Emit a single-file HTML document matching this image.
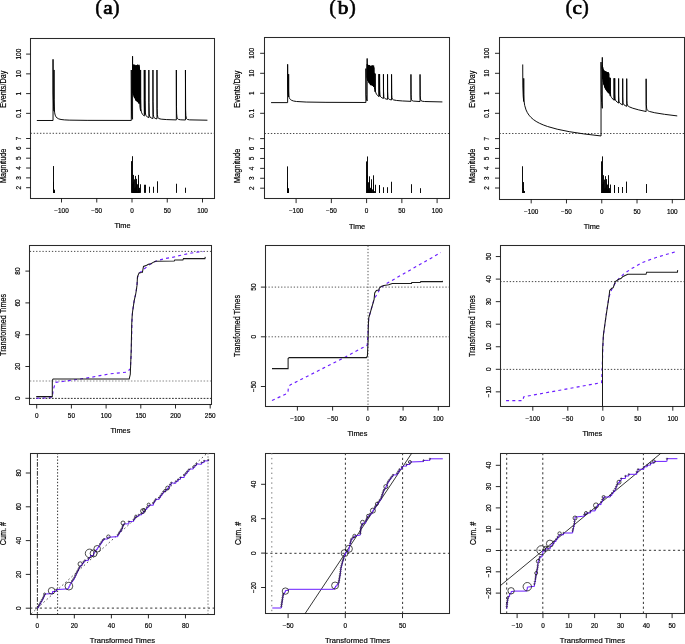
<!DOCTYPE html><html><head><meta charset="utf-8"><style>html,body{margin:0;padding:0;background:#fff;overflow:hidden}svg{display:block;will-change:transform}</style></head><body><svg width="685" height="644" viewBox="0 0 685 644">
<rect width="685" height="644" fill="#fff"/>
<text transform="translate(98.7,14.4) rotate(0) scale(1.0,1)" font-family="Liberation Serif" font-size="20.5" font-weight="normal" text-anchor="middle" fill="#000" stroke="#000" stroke-width="0.5">(</text>
<text transform="translate(108,14.2) rotate(0) scale(1.12,1)" font-family="Liberation Serif" font-size="19" font-weight="normal" text-anchor="middle" fill="#000" stroke="#000" stroke-width="0.75">a</text>
<text transform="translate(116.1,14.4) rotate(0) scale(1.0,1)" font-family="Liberation Serif" font-size="20.5" font-weight="normal" text-anchor="middle" fill="#000" stroke="#000" stroke-width="0.5">)</text>
<text transform="translate(332.6,14.4) rotate(0) scale(1.0,1)" font-family="Liberation Serif" font-size="20.5" font-weight="normal" text-anchor="middle" fill="#000" stroke="#000" stroke-width="0.5">(</text>
<text transform="translate(343,14.2) rotate(0) scale(1.12,1)" font-family="Liberation Serif" font-size="19" font-weight="normal" text-anchor="middle" fill="#000" stroke="#000" stroke-width="0.75">b</text>
<text transform="translate(352.4,14.4) rotate(0) scale(1.0,1)" font-family="Liberation Serif" font-size="20.5" font-weight="normal" text-anchor="middle" fill="#000" stroke="#000" stroke-width="0.5">)</text>
<text transform="translate(568.8,14.4) rotate(0) scale(1.0,1)" font-family="Liberation Serif" font-size="20.5" font-weight="normal" text-anchor="middle" fill="#000" stroke="#000" stroke-width="0.5">(</text>
<text transform="translate(577.1,14.2) rotate(0) scale(1.12,1)" font-family="Liberation Serif" font-size="19" font-weight="normal" text-anchor="middle" fill="#000" stroke="#000" stroke-width="0.75">c</text>
<text transform="translate(585.3,14.4) rotate(0) scale(1.0,1)" font-family="Liberation Serif" font-size="20.5" font-weight="normal" text-anchor="middle" fill="#000" stroke="#000" stroke-width="0.5">)</text>
<rect x="30.5" y="38.5" width="184" height="160" fill="none" stroke="#2a2a2a" stroke-width="1.05"/>
<line x1="30.5" y1="133.3" x2="214.6" y2="133.3" stroke="#333" stroke-width="0.9" stroke-dasharray="1.4,1.76"/>
<line x1="26.1" y1="54.1" x2="30.5" y2="54.1" stroke="#111" stroke-width="0.9"/>
<text transform="translate(20.9,54.1) rotate(-90) scale(0.97,1)" font-family="Liberation Sans" font-size="6.6" font-weight="normal" text-anchor="middle" fill="#000" stroke="#000" stroke-width="0.18">100</text>
<line x1="26.1" y1="73.85" x2="30.5" y2="73.85" stroke="#111" stroke-width="0.9"/>
<text transform="translate(20.9,73.85) rotate(-90) scale(0.97,1)" font-family="Liberation Sans" font-size="6.6" font-weight="normal" text-anchor="middle" fill="#000" stroke="#000" stroke-width="0.18">10</text>
<line x1="26.1" y1="93.6" x2="30.5" y2="93.6" stroke="#111" stroke-width="0.9"/>
<text transform="translate(20.9,93.6) rotate(-90) scale(0.97,1)" font-family="Liberation Sans" font-size="6.6" font-weight="normal" text-anchor="middle" fill="#000" stroke="#000" stroke-width="0.18">1</text>
<line x1="26.1" y1="113.35" x2="30.5" y2="113.35" stroke="#111" stroke-width="0.9"/>
<text transform="translate(20.9,113.35) rotate(-90) scale(0.97,1)" font-family="Liberation Sans" font-size="6.6" font-weight="normal" text-anchor="middle" fill="#000" stroke="#000" stroke-width="0.18">0.1</text>
<line x1="26.1" y1="138.5" x2="30.5" y2="138.5" stroke="#111" stroke-width="0.9"/>
<text transform="translate(20.9,138.5) rotate(-90) scale(0.97,1)" font-family="Liberation Sans" font-size="6.6" font-weight="normal" text-anchor="middle" fill="#000" stroke="#000" stroke-width="0.18">7</text>
<line x1="26.1" y1="148.34" x2="30.5" y2="148.34" stroke="#111" stroke-width="0.9"/>
<text transform="translate(20.9,148.34) rotate(-90) scale(0.97,1)" font-family="Liberation Sans" font-size="6.6" font-weight="normal" text-anchor="middle" fill="#000" stroke="#000" stroke-width="0.18">6</text>
<line x1="26.1" y1="158.18" x2="30.5" y2="158.18" stroke="#111" stroke-width="0.9"/>
<text transform="translate(20.9,158.18) rotate(-90) scale(0.97,1)" font-family="Liberation Sans" font-size="6.6" font-weight="normal" text-anchor="middle" fill="#000" stroke="#000" stroke-width="0.18">5</text>
<line x1="26.1" y1="168.02" x2="30.5" y2="168.02" stroke="#111" stroke-width="0.9"/>
<text transform="translate(20.9,168.02) rotate(-90) scale(0.97,1)" font-family="Liberation Sans" font-size="6.6" font-weight="normal" text-anchor="middle" fill="#000" stroke="#000" stroke-width="0.18">4</text>
<line x1="26.1" y1="177.86" x2="30.5" y2="177.86" stroke="#111" stroke-width="0.9"/>
<text transform="translate(20.9,177.86) rotate(-90) scale(0.97,1)" font-family="Liberation Sans" font-size="6.6" font-weight="normal" text-anchor="middle" fill="#000" stroke="#000" stroke-width="0.18">3</text>
<line x1="26.1" y1="187.7" x2="30.5" y2="187.7" stroke="#111" stroke-width="0.9"/>
<text transform="translate(20.9,187.7) rotate(-90) scale(0.97,1)" font-family="Liberation Sans" font-size="6.6" font-weight="normal" text-anchor="middle" fill="#000" stroke="#000" stroke-width="0.18">2</text>
<line x1="61.5" y1="198.3" x2="61.5" y2="202.5" stroke="#111" stroke-width="0.9"/>
<text transform="translate(61.5,212.7) rotate(0) scale(0.97,1)" font-family="Liberation Sans" font-size="6.6" font-weight="normal" text-anchor="middle" fill="#000" stroke="#000" stroke-width="0.18">−100</text>
<line x1="96.75" y1="198.3" x2="96.75" y2="202.5" stroke="#111" stroke-width="0.9"/>
<text transform="translate(96.75,212.7) rotate(0) scale(0.97,1)" font-family="Liberation Sans" font-size="6.6" font-weight="normal" text-anchor="middle" fill="#000" stroke="#000" stroke-width="0.18">−50</text>
<line x1="132" y1="198.3" x2="132" y2="202.5" stroke="#111" stroke-width="0.9"/>
<text transform="translate(132,212.7) rotate(0) scale(0.97,1)" font-family="Liberation Sans" font-size="6.6" font-weight="normal" text-anchor="middle" fill="#000" stroke="#000" stroke-width="0.18">0</text>
<line x1="167.25" y1="198.3" x2="167.25" y2="202.5" stroke="#111" stroke-width="0.9"/>
<text transform="translate(167.25,212.7) rotate(0) scale(0.97,1)" font-family="Liberation Sans" font-size="6.6" font-weight="normal" text-anchor="middle" fill="#000" stroke="#000" stroke-width="0.18">50</text>
<line x1="202.5" y1="198.3" x2="202.5" y2="202.5" stroke="#111" stroke-width="0.9"/>
<text transform="translate(202.5,212.7) rotate(0) scale(0.97,1)" font-family="Liberation Sans" font-size="6.6" font-weight="normal" text-anchor="middle" fill="#000" stroke="#000" stroke-width="0.18">100</text>
<text transform="translate(122.55,228.2) rotate(0) scale(1.0,1)" font-family="Liberation Sans" font-size="7.4" font-weight="normal" text-anchor="middle" fill="#000" stroke="#000" stroke-width="0.18">Time</text>
<text transform="translate(6.1,89.2) rotate(-90) scale(0.98,1.1)" font-family="Liberation Sans" font-size="7.4" font-weight="normal" text-anchor="middle" fill="#000" stroke="#000" stroke-width="0.18">Events/Day</text>
<text transform="translate(6.1,165.8) rotate(-90) scale(1.0,1.1)" font-family="Liberation Sans" font-size="7.4" font-weight="normal" text-anchor="middle" fill="#000" stroke="#000" stroke-width="0.18">Magnitude</text>
<path d="M36.83,120.49 L53.04,120.49 L53.04,59.32 L53.15,92.98 L53.6,106.79 L54.03,111.14 L54.03,69.96 L54.1,99.6 L54.36,109.88 L54.68,112.87 L55.2,115.11 L56.01,116.82 L57.11,118.02 L58.74,118.9 L61.02,119.49 L64.32,119.88 L69.18,120.13 L87.08,120.37 L131.29,120.45 L131.29,70.01 L131.51,111.11 L131.85,116.98 L132.13,118.37 L132.56,119.28 L132.56,56.23 L132.64,88.21 L132.64,64.15 L132.81,92.37 L132.81,66.73 L132.89,93.16 L132.89,64.96 L133.07,93.2 L133.17,65.23 L133.36,94.74 L133.36,64.7 L133.44,91.63 L133.46,65.68 L133.57,94.16 L133.57,66.62 L133.68,94.8 L133.68,65.52 L133.76,92.42 L133.79,65.9 L133.84,89.7 L133.9,68.77 L134.02,96.38 L134.02,65.49 L134.07,90.24 L134.14,69.55 L134.26,97.3 L134.26,64.74 L134.37,95.1 L134.39,65.77 L134.47,93.76 L134.52,69.21 L134.65,97.91 L134.65,68.19 L134.79,98.27 L134.79,65.48 L134.93,97.58 L134.93,64.9 L135.07,97.32 L135.07,67.17 L135.22,98.26 L135.22,66.48 L135.32,95.35 L135.38,69.08 L135.54,99.65 L135.54,68.16 L135.7,99.97 L135.7,67.2 L135.79,95.62 L135.87,69.08 L136.04,100.84 L136.04,65.16 L136.19,98.77 L136.21,65.87 L136.34,97.35 L136.4,66.92 L136.58,100.64 L136.58,67.62 L136.77,101.24 L136.77,65.37 L136.97,100.82 L136.97,65.66 L137.05,94.62 L137.17,100.99 L137.17,66.6 L137.38,101.54 L137.38,65.16 L137.6,101.36 L137.6,64.67 L137.69,94.92 L137.82,101.3 L137.82,66.73 L138.04,102.16 L138.04,65.4 L138.28,102.16 L138.28,65.45 L138.41,98.36 L138.52,102.38 L138.52,66.07 L138.76,102.84 L138.76,67.81 L138.83,94.97 L139.02,103.72 L139.02,64.82 L139.09,93.12 L139.28,103.22 L139.28,66.52 L139.47,101.8 L139.54,69.87 L139.7,102.14 L139.99,107.4 L140.6,110.84 L140.6,69.96 L140.67,98.61 L140.9,108.64 L141.18,111.03 L141.69,112.83 L142.51,114.33 L143.7,115.61 L144.27,116.06 L144.27,70 L144.39,105.14 L144.58,111.71 L144.97,114.79 L144.97,69.99 L145.05,100.31 L145.35,112.15 L145.66,114.48 L146.21,115.9 L147.21,116.9 L148.85,117.7 L148.85,70 L148.94,102.42 L149.26,113.91 L149.58,116.01 L150.13,117.19 L151.14,117.93 L152.94,118.47 L152.94,70.01 L153.02,101.73 L153.34,114.27 L153.66,116.53 L154.19,117.71 L155.16,118.41 L156.96,118.88 L156.96,70.01 L157.13,108.45 L157.36,114.5 L157.85,117.37 L158.25,118.08 L158.86,118.56 L161.17,119.15 L166.73,119.59 L176.34,119.91 L176.34,70.01 L176.48,106.55 L176.67,113.8 L176.99,117.16 L177.54,118.72 L178.59,119.46 L180.75,119.81 L185.44,120 L185.44,70.01 L185.62,109.12 L185.87,115.48 L186.42,118.42 L186.82,119.03 L187.41,119.44 L189.61,119.87 L207.42,120.21" fill="none" stroke="#000" stroke-width="0.95" stroke-linejoin="round"/>
<line x1="53.5" y1="192.9" x2="53.5" y2="166.05" stroke="#000" stroke-width="0.95"/>
<line x1="53.5" y1="192.9" x2="53.5" y2="181.8" stroke="#000" stroke-width="0.95"/>
<line x1="53.5" y1="192.9" x2="53.5" y2="187.7" stroke="#000" stroke-width="0.95"/>
<line x1="53.5" y1="192.9" x2="53.5" y2="189.67" stroke="#000" stroke-width="0.95"/>
<line x1="53.5" y1="192.9" x2="53.5" y2="188.68" stroke="#000" stroke-width="0.95"/>
<line x1="53.5" y1="192.9" x2="53.5" y2="190.65" stroke="#000" stroke-width="0.95"/>
<line x1="53.5" y1="192.9" x2="53.5" y2="187.7" stroke="#000" stroke-width="0.95"/>
<line x1="53.5" y1="192.9" x2="53.5" y2="191.64" stroke="#000" stroke-width="0.95"/>
<line x1="54.5" y1="192.9" x2="54.5" y2="189.67" stroke="#000" stroke-width="0.95"/>
<line x1="54.5" y1="192.9" x2="54.5" y2="191.64" stroke="#000" stroke-width="0.95"/>
<line x1="54.5" y1="192.9" x2="54.5" y2="190.65" stroke="#000" stroke-width="0.95"/>
<line x1="131.5" y1="192.9" x2="131.5" y2="161.13" stroke="#000" stroke-width="0.95"/>
<line x1="132.5" y1="192.9" x2="132.5" y2="156.21" stroke="#000" stroke-width="0.95"/>
<line x1="132.5" y1="192.9" x2="132.5" y2="183.76" stroke="#000" stroke-width="0.95"/>
<line x1="132.5" y1="192.9" x2="132.5" y2="191.39" stroke="#000" stroke-width="0.95"/>
<line x1="132.5" y1="192.9" x2="132.5" y2="188.93" stroke="#000" stroke-width="0.95"/>
<line x1="132.5" y1="192.9" x2="132.5" y2="191.77" stroke="#000" stroke-width="0.95"/>
<line x1="132.5" y1="192.9" x2="132.5" y2="189.49" stroke="#000" stroke-width="0.95"/>
<line x1="132.5" y1="192.9" x2="132.5" y2="190.33" stroke="#000" stroke-width="0.95"/>
<line x1="132.5" y1="192.9" x2="132.5" y2="191.84" stroke="#000" stroke-width="0.95"/>
<line x1="132.5" y1="192.9" x2="132.5" y2="189.63" stroke="#000" stroke-width="0.95"/>
<line x1="132.5" y1="192.9" x2="132.5" y2="191.94" stroke="#000" stroke-width="0.95"/>
<line x1="132.5" y1="192.9" x2="132.5" y2="189.99" stroke="#000" stroke-width="0.95"/>
<line x1="132.5" y1="192.9" x2="132.5" y2="191.78" stroke="#000" stroke-width="0.95"/>
<line x1="132.5" y1="192.9" x2="132.5" y2="191.68" stroke="#000" stroke-width="0.95"/>
<line x1="132.5" y1="192.9" x2="132.5" y2="190.04" stroke="#000" stroke-width="0.95"/>
<line x1="132.5" y1="192.9" x2="132.5" y2="185.73" stroke="#000" stroke-width="0.95"/>
<line x1="132.5" y1="192.9" x2="132.5" y2="191.52" stroke="#000" stroke-width="0.95"/>
<line x1="132.5" y1="192.9" x2="132.5" y2="191.03" stroke="#000" stroke-width="0.95"/>
<line x1="133.5" y1="192.9" x2="133.5" y2="189.04" stroke="#000" stroke-width="0.95"/>
<line x1="133.5" y1="192.9" x2="133.5" y2="187.47" stroke="#000" stroke-width="0.95"/>
<line x1="133.5" y1="192.9" x2="133.5" y2="189.29" stroke="#000" stroke-width="0.95"/>
<line x1="133.5" y1="192.9" x2="133.5" y2="190.18" stroke="#000" stroke-width="0.95"/>
<line x1="133.5" y1="192.9" x2="133.5" y2="187.32" stroke="#000" stroke-width="0.95"/>
<line x1="133.5" y1="192.9" x2="133.5" y2="191.9" stroke="#000" stroke-width="0.95"/>
<line x1="133.5" y1="192.9" x2="133.5" y2="187.9" stroke="#000" stroke-width="0.95"/>
<line x1="133.5" y1="192.9" x2="133.5" y2="190.7" stroke="#000" stroke-width="0.95"/>
<line x1="133.5" y1="192.9" x2="133.5" y2="191.42" stroke="#000" stroke-width="0.95"/>
<line x1="133.5" y1="192.9" x2="133.5" y2="191.55" stroke="#000" stroke-width="0.95"/>
<line x1="133.5" y1="192.9" x2="133.5" y2="190.61" stroke="#000" stroke-width="0.95"/>
<line x1="133.5" y1="192.9" x2="133.5" y2="188.11" stroke="#000" stroke-width="0.95"/>
<line x1="133.5" y1="192.9" x2="133.5" y2="174.91" stroke="#000" stroke-width="0.95"/>
<line x1="133.5" y1="192.9" x2="133.5" y2="189.27" stroke="#000" stroke-width="0.95"/>
<line x1="133.5" y1="192.9" x2="133.5" y2="188.98" stroke="#000" stroke-width="0.95"/>
<line x1="133.5" y1="192.9" x2="133.5" y2="190.3" stroke="#000" stroke-width="0.95"/>
<line x1="133.5" y1="192.9" x2="133.5" y2="189.43" stroke="#000" stroke-width="0.95"/>
<line x1="133.5" y1="192.9" x2="133.5" y2="191.82" stroke="#000" stroke-width="0.95"/>
<line x1="133.5" y1="192.9" x2="133.5" y2="191.83" stroke="#000" stroke-width="0.95"/>
<line x1="133.5" y1="192.9" x2="133.5" y2="181.8" stroke="#000" stroke-width="0.95"/>
<line x1="133.5" y1="192.9" x2="133.5" y2="188.78" stroke="#000" stroke-width="0.95"/>
<line x1="134.5" y1="192.9" x2="134.5" y2="190.02" stroke="#000" stroke-width="0.95"/>
<line x1="134.5" y1="192.9" x2="134.5" y2="190.58" stroke="#000" stroke-width="0.95"/>
<line x1="134.5" y1="192.9" x2="134.5" y2="189.25" stroke="#000" stroke-width="0.95"/>
<line x1="134.5" y1="192.9" x2="134.5" y2="189.9" stroke="#000" stroke-width="0.95"/>
<line x1="134.5" y1="192.9" x2="134.5" y2="179.34" stroke="#000" stroke-width="0.95"/>
<line x1="134.5" y1="192.9" x2="134.5" y2="188.22" stroke="#000" stroke-width="0.95"/>
<line x1="134.5" y1="192.9" x2="134.5" y2="188.69" stroke="#000" stroke-width="0.95"/>
<line x1="134.5" y1="192.9" x2="134.5" y2="190.93" stroke="#000" stroke-width="0.95"/>
<line x1="134.5" y1="192.9" x2="134.5" y2="189.3" stroke="#000" stroke-width="0.95"/>
<line x1="135.5" y1="192.9" x2="135.5" y2="189.54" stroke="#000" stroke-width="0.95"/>
<line x1="135.5" y1="192.9" x2="135.5" y2="175.89" stroke="#000" stroke-width="0.95"/>
<line x1="135.5" y1="192.9" x2="135.5" y2="188.54" stroke="#000" stroke-width="0.95"/>
<line x1="135.5" y1="192.9" x2="135.5" y2="190.71" stroke="#000" stroke-width="0.95"/>
<line x1="135.5" y1="192.9" x2="135.5" y2="187.31" stroke="#000" stroke-width="0.95"/>
<line x1="136.5" y1="192.9" x2="136.5" y2="191.55" stroke="#000" stroke-width="0.95"/>
<line x1="136.5" y1="192.9" x2="136.5" y2="178.84" stroke="#000" stroke-width="0.95"/>
<line x1="136.5" y1="192.9" x2="136.5" y2="182.78" stroke="#000" stroke-width="0.95"/>
<line x1="137.5" y1="192.9" x2="137.5" y2="191.38" stroke="#000" stroke-width="0.95"/>
<line x1="137.5" y1="192.9" x2="137.5" y2="184.26" stroke="#000" stroke-width="0.95"/>
<line x1="137.5" y1="192.9" x2="137.5" y2="191.94" stroke="#000" stroke-width="0.95"/>
<line x1="138.5" y1="192.9" x2="138.5" y2="188.84" stroke="#000" stroke-width="0.95"/>
<line x1="138.5" y1="192.9" x2="138.5" y2="180.81" stroke="#000" stroke-width="0.95"/>
<line x1="138.5" y1="192.9" x2="138.5" y2="174.91" stroke="#000" stroke-width="0.95"/>
<line x1="139.5" y1="192.9" x2="139.5" y2="187.82" stroke="#000" stroke-width="0.95"/>
<line x1="139.5" y1="192.9" x2="139.5" y2="190.58" stroke="#000" stroke-width="0.95"/>
<line x1="140.5" y1="192.9" x2="140.5" y2="184.26" stroke="#000" stroke-width="0.95"/>
<line x1="144.5" y1="192.9" x2="144.5" y2="184.75" stroke="#000" stroke-width="0.95"/>
<line x1="145.5" y1="192.9" x2="145.5" y2="184.75" stroke="#000" stroke-width="0.95"/>
<line x1="149.5" y1="192.9" x2="149.5" y2="186.72" stroke="#000" stroke-width="0.95"/>
<line x1="153.5" y1="192.9" x2="153.5" y2="186.72" stroke="#000" stroke-width="0.95"/>
<line x1="157.5" y1="192.9" x2="157.5" y2="181.3" stroke="#000" stroke-width="0.95"/>
<line x1="176.5" y1="192.9" x2="176.5" y2="183.76" stroke="#000" stroke-width="0.95"/>
<line x1="185.5" y1="192.9" x2="185.5" y2="187.7" stroke="#000" stroke-width="0.95"/>
<rect x="264.5" y="37.5" width="185" height="161" fill="none" stroke="#2a2a2a" stroke-width="1.05"/>
<line x1="264.55" y1="133.5" x2="449.6" y2="133.5" stroke="#333" stroke-width="0.9" stroke-dasharray="1.4,1.76"/>
<line x1="260.15" y1="53.3" x2="264.55" y2="53.3" stroke="#111" stroke-width="0.9"/>
<text transform="translate(254.35,53.3) rotate(-90) scale(0.97,1)" font-family="Liberation Sans" font-size="6.6" font-weight="normal" text-anchor="middle" fill="#000" stroke="#000" stroke-width="0.18">100</text>
<line x1="260.15" y1="73.3" x2="264.55" y2="73.3" stroke="#111" stroke-width="0.9"/>
<text transform="translate(254.35,73.3) rotate(-90) scale(0.97,1)" font-family="Liberation Sans" font-size="6.6" font-weight="normal" text-anchor="middle" fill="#000" stroke="#000" stroke-width="0.18">10</text>
<line x1="260.15" y1="93.3" x2="264.55" y2="93.3" stroke="#111" stroke-width="0.9"/>
<text transform="translate(254.35,93.3) rotate(-90) scale(0.97,1)" font-family="Liberation Sans" font-size="6.6" font-weight="normal" text-anchor="middle" fill="#000" stroke="#000" stroke-width="0.18">1</text>
<line x1="260.15" y1="113.3" x2="264.55" y2="113.3" stroke="#111" stroke-width="0.9"/>
<text transform="translate(254.35,113.3) rotate(-90) scale(0.97,1)" font-family="Liberation Sans" font-size="6.6" font-weight="normal" text-anchor="middle" fill="#000" stroke="#000" stroke-width="0.18">0.1</text>
<line x1="260.15" y1="138.6" x2="264.55" y2="138.6" stroke="#111" stroke-width="0.9"/>
<text transform="translate(254.35,138.6) rotate(-90) scale(0.97,1)" font-family="Liberation Sans" font-size="6.6" font-weight="normal" text-anchor="middle" fill="#000" stroke="#000" stroke-width="0.18">7</text>
<line x1="260.15" y1="148.52" x2="264.55" y2="148.52" stroke="#111" stroke-width="0.9"/>
<text transform="translate(254.35,148.52) rotate(-90) scale(0.97,1)" font-family="Liberation Sans" font-size="6.6" font-weight="normal" text-anchor="middle" fill="#000" stroke="#000" stroke-width="0.18">6</text>
<line x1="260.15" y1="158.44" x2="264.55" y2="158.44" stroke="#111" stroke-width="0.9"/>
<text transform="translate(254.35,158.44) rotate(-90) scale(0.97,1)" font-family="Liberation Sans" font-size="6.6" font-weight="normal" text-anchor="middle" fill="#000" stroke="#000" stroke-width="0.18">5</text>
<line x1="260.15" y1="168.36" x2="264.55" y2="168.36" stroke="#111" stroke-width="0.9"/>
<text transform="translate(254.35,168.36) rotate(-90) scale(0.97,1)" font-family="Liberation Sans" font-size="6.6" font-weight="normal" text-anchor="middle" fill="#000" stroke="#000" stroke-width="0.18">4</text>
<line x1="260.15" y1="178.28" x2="264.55" y2="178.28" stroke="#111" stroke-width="0.9"/>
<text transform="translate(254.35,178.28) rotate(-90) scale(0.97,1)" font-family="Liberation Sans" font-size="6.6" font-weight="normal" text-anchor="middle" fill="#000" stroke="#000" stroke-width="0.18">3</text>
<line x1="260.15" y1="188.2" x2="264.55" y2="188.2" stroke="#111" stroke-width="0.9"/>
<text transform="translate(254.35,188.2) rotate(-90) scale(0.97,1)" font-family="Liberation Sans" font-size="6.6" font-weight="normal" text-anchor="middle" fill="#000" stroke="#000" stroke-width="0.18">2</text>
<line x1="296.1" y1="198.9" x2="296.1" y2="203.1" stroke="#111" stroke-width="0.9"/>
<text transform="translate(296.1,213.3) rotate(0) scale(0.97,1)" font-family="Liberation Sans" font-size="6.6" font-weight="normal" text-anchor="middle" fill="#000" stroke="#000" stroke-width="0.18">−100</text>
<line x1="331.35" y1="198.9" x2="331.35" y2="203.1" stroke="#111" stroke-width="0.9"/>
<text transform="translate(331.35,213.3) rotate(0) scale(0.97,1)" font-family="Liberation Sans" font-size="6.6" font-weight="normal" text-anchor="middle" fill="#000" stroke="#000" stroke-width="0.18">−50</text>
<line x1="366.6" y1="198.9" x2="366.6" y2="203.1" stroke="#111" stroke-width="0.9"/>
<text transform="translate(366.6,213.3) rotate(0) scale(0.97,1)" font-family="Liberation Sans" font-size="6.6" font-weight="normal" text-anchor="middle" fill="#000" stroke="#000" stroke-width="0.18">0</text>
<line x1="401.85" y1="198.9" x2="401.85" y2="203.1" stroke="#111" stroke-width="0.9"/>
<text transform="translate(401.85,213.3) rotate(0) scale(0.97,1)" font-family="Liberation Sans" font-size="6.6" font-weight="normal" text-anchor="middle" fill="#000" stroke="#000" stroke-width="0.18">50</text>
<line x1="437.1" y1="198.9" x2="437.1" y2="203.1" stroke="#111" stroke-width="0.9"/>
<text transform="translate(437.1,213.3) rotate(0) scale(0.97,1)" font-family="Liberation Sans" font-size="6.6" font-weight="normal" text-anchor="middle" fill="#000" stroke="#000" stroke-width="0.18">100</text>
<text transform="translate(357.08,228.8) rotate(0) scale(1.0,1)" font-family="Liberation Sans" font-size="7.4" font-weight="normal" text-anchor="middle" fill="#000" stroke="#000" stroke-width="0.18">Time</text>
<text transform="translate(239.9,89.2) rotate(-90) scale(0.98,1.1)" font-family="Liberation Sans" font-size="7.4" font-weight="normal" text-anchor="middle" fill="#000" stroke="#000" stroke-width="0.18">Events/Day</text>
<text transform="translate(239.9,165.8) rotate(-90) scale(1.0,1.1)" font-family="Liberation Sans" font-size="7.4" font-weight="normal" text-anchor="middle" fill="#000" stroke="#000" stroke-width="0.18">Magnitude</text>
<path d="M271.07,102.62 L287.64,102.62 L287.64,64.3 L287.72,86.05 L288.09,93.9 L288.63,96.89 L288.63,74.11 L288.67,90.97 L288.86,95.88 L289.17,97.43 L289.72,98.66 L290.54,99.62 L291.66,100.35 L293.64,101.02 L296.46,101.49 L306.23,102.06 L325.98,102.34 L365.89,102.48 L365.9,68.6 L366.13,94.63 L366.48,98.91 L366.76,100.12 L367.16,100.94 L367.16,58.48 L367.24,77.54 L367.24,63.99 L367.32,78.67 L367.41,66.93 L367.49,80.21 L367.49,65.11 L367.67,79.83 L367.77,65.29 L367.96,80.87 L367.96,64.89 L368.06,79.9 L368.06,65.79 L368.28,80.59 L368.28,65.71 L368.39,80.42 L368.39,66.09 L368.62,81.8 L368.62,65.83 L368.86,82.55 L368.86,65.1 L368.99,81.42 L368.99,66.09 L369.09,80.71 L369.12,69.91 L369.25,82.87 L369.25,68.98 L369.39,83.22 L369.39,65.99 L369.53,82.53 L369.53,65.26 L369.67,82.16 L369.67,67.72 L369.82,82.92 L369.82,67.05 L369.94,81.96 L369.98,70.04 L370.14,84.1 L370.14,69.13 L370.3,84.4 L370.3,68.05 L370.38,81.66 L370.47,70.25 L370.64,85.12 L370.64,65.81 L370.8,83.96 L370.81,66.51 L370.95,82.96 L371,67.71 L371.18,84.7 L371.18,68.57 L371.37,85.2 L371.37,66.04 L371.52,83.31 L371.57,66.33 L371.67,81.78 L371.77,84.83 L371.77,67.4 L371.98,85.26 L371.98,65.81 L372.2,85.04 L372.2,65.23 L372.42,84.9 L372.42,67.55 L372.64,85.6 L372.64,66.11 L372.88,85.56 L372.88,66.15 L373.03,83.88 L373.12,66.88 L373.23,82.83 L373.36,86.05 L373.36,68.94 L373.62,86.8 L373.62,65.54 L373.88,86.34 L373.88,67.46 L374.02,84.31 L374.14,86.84 L374.14,72.86 L374.24,84.99 L374.62,89.68 L375.2,91.98 L375.2,73.67 L375.28,87.05 L375.53,91.5 L375.91,92.98 L376.59,94.31 L377.59,95.54 L378.87,96.62 L378.87,74.12 L379,91.87 L379.19,94.74 L379.57,96.19 L379.57,74.09 L379.66,89.79 L379.94,94.93 L380.27,96.16 L380.86,97.03 L381.9,97.79 L383.45,98.48 L383.45,74.25 L383.54,91.08 L383.83,96.53 L384.15,97.64 L384.72,98.35 L385.78,98.9 L387.54,99.41 L387.54,74.3 L387.63,91.46 L387.92,97.23 L388.24,98.38 L388.79,99.07 L389.8,99.55 L391.56,99.96 L391.56,74.33 L391.72,94.61 L391.95,97.71 L392.44,99.15 L392.93,99.6 L393.69,99.94 L396.63,100.47 L402.5,100.96 L410.94,101.36 L410.94,74.4 L411.08,94.22 L411.25,97.89 L411.56,99.74 L412.14,100.63 L413.26,101.09 L420.04,101.55 L420.04,74.41 L420.22,95.82 L420.47,99.1 L421.01,100.58 L422.13,101.21 L424.66,101.52 L442.38,101.93" fill="none" stroke="#000" stroke-width="0.95" stroke-linejoin="round"/>
<line x1="287.5" y1="193" x2="287.5" y2="166.38" stroke="#000" stroke-width="0.95"/>
<line x1="287.5" y1="193" x2="287.5" y2="182.25" stroke="#000" stroke-width="0.95"/>
<line x1="287.5" y1="193" x2="287.5" y2="188.2" stroke="#000" stroke-width="0.95"/>
<line x1="288.5" y1="193" x2="288.5" y2="190.18" stroke="#000" stroke-width="0.95"/>
<line x1="288.5" y1="193" x2="288.5" y2="189.19" stroke="#000" stroke-width="0.95"/>
<line x1="288.5" y1="193" x2="288.5" y2="191.18" stroke="#000" stroke-width="0.95"/>
<line x1="288.5" y1="193" x2="288.5" y2="188.2" stroke="#000" stroke-width="0.95"/>
<line x1="288.5" y1="193" x2="288.5" y2="192.17" stroke="#000" stroke-width="0.95"/>
<line x1="288.5" y1="193" x2="288.5" y2="190.18" stroke="#000" stroke-width="0.95"/>
<line x1="288.5" y1="193" x2="288.5" y2="192.17" stroke="#000" stroke-width="0.95"/>
<line x1="288.5" y1="193" x2="288.5" y2="191.18" stroke="#000" stroke-width="0.95"/>
<line x1="366.5" y1="193" x2="366.5" y2="161.42" stroke="#000" stroke-width="0.95"/>
<line x1="367.5" y1="193" x2="367.5" y2="156.46" stroke="#000" stroke-width="0.95"/>
<line x1="367.5" y1="193" x2="367.5" y2="184.23" stroke="#000" stroke-width="0.95"/>
<line x1="367.5" y1="193" x2="367.5" y2="191.92" stroke="#000" stroke-width="0.95"/>
<line x1="367.5" y1="193" x2="367.5" y2="189.44" stroke="#000" stroke-width="0.95"/>
<line x1="367.5" y1="193" x2="367.5" y2="192.3" stroke="#000" stroke-width="0.95"/>
<line x1="367.5" y1="193" x2="367.5" y2="190.01" stroke="#000" stroke-width="0.95"/>
<line x1="367.5" y1="193" x2="367.5" y2="190.85" stroke="#000" stroke-width="0.95"/>
<line x1="367.5" y1="193" x2="367.5" y2="192.38" stroke="#000" stroke-width="0.95"/>
<line x1="367.5" y1="193" x2="367.5" y2="190.15" stroke="#000" stroke-width="0.95"/>
<line x1="367.5" y1="193" x2="367.5" y2="192.48" stroke="#000" stroke-width="0.95"/>
<line x1="367.5" y1="193" x2="367.5" y2="190.51" stroke="#000" stroke-width="0.95"/>
<line x1="367.5" y1="193" x2="367.5" y2="192.32" stroke="#000" stroke-width="0.95"/>
<line x1="367.5" y1="193" x2="367.5" y2="192.21" stroke="#000" stroke-width="0.95"/>
<line x1="367.5" y1="193" x2="367.5" y2="190.56" stroke="#000" stroke-width="0.95"/>
<line x1="367.5" y1="193" x2="367.5" y2="186.22" stroke="#000" stroke-width="0.95"/>
<line x1="367.5" y1="193" x2="367.5" y2="192.05" stroke="#000" stroke-width="0.95"/>
<line x1="367.5" y1="193" x2="367.5" y2="191.56" stroke="#000" stroke-width="0.95"/>
<line x1="367.5" y1="193" x2="367.5" y2="189.55" stroke="#000" stroke-width="0.95"/>
<line x1="367.5" y1="193" x2="367.5" y2="187.96" stroke="#000" stroke-width="0.95"/>
<line x1="367.5" y1="193" x2="367.5" y2="189.8" stroke="#000" stroke-width="0.95"/>
<line x1="367.5" y1="193" x2="367.5" y2="190.7" stroke="#000" stroke-width="0.95"/>
<line x1="367.5" y1="193" x2="367.5" y2="187.82" stroke="#000" stroke-width="0.95"/>
<line x1="367.5" y1="193" x2="367.5" y2="192.43" stroke="#000" stroke-width="0.95"/>
<line x1="367.5" y1="193" x2="367.5" y2="188.41" stroke="#000" stroke-width="0.95"/>
<line x1="367.5" y1="193" x2="367.5" y2="191.23" stroke="#000" stroke-width="0.95"/>
<line x1="367.5" y1="193" x2="367.5" y2="191.95" stroke="#000" stroke-width="0.95"/>
<line x1="367.5" y1="193" x2="367.5" y2="192.08" stroke="#000" stroke-width="0.95"/>
<line x1="367.5" y1="193" x2="367.5" y2="191.13" stroke="#000" stroke-width="0.95"/>
<line x1="367.5" y1="193" x2="367.5" y2="188.62" stroke="#000" stroke-width="0.95"/>
<line x1="367.5" y1="193" x2="367.5" y2="175.3" stroke="#000" stroke-width="0.95"/>
<line x1="368.5" y1="193" x2="368.5" y2="189.78" stroke="#000" stroke-width="0.95"/>
<line x1="368.5" y1="193" x2="368.5" y2="189.49" stroke="#000" stroke-width="0.95"/>
<line x1="368.5" y1="193" x2="368.5" y2="190.82" stroke="#000" stroke-width="0.95"/>
<line x1="368.5" y1="193" x2="368.5" y2="189.95" stroke="#000" stroke-width="0.95"/>
<line x1="368.5" y1="193" x2="368.5" y2="192.35" stroke="#000" stroke-width="0.95"/>
<line x1="368.5" y1="193" x2="368.5" y2="192.37" stroke="#000" stroke-width="0.95"/>
<line x1="368.5" y1="193" x2="368.5" y2="182.25" stroke="#000" stroke-width="0.95"/>
<line x1="368.5" y1="193" x2="368.5" y2="189.29" stroke="#000" stroke-width="0.95"/>
<line x1="368.5" y1="193" x2="368.5" y2="190.54" stroke="#000" stroke-width="0.95"/>
<line x1="368.5" y1="193" x2="368.5" y2="191.11" stroke="#000" stroke-width="0.95"/>
<line x1="368.5" y1="193" x2="368.5" y2="189.76" stroke="#000" stroke-width="0.95"/>
<line x1="368.5" y1="193" x2="368.5" y2="190.42" stroke="#000" stroke-width="0.95"/>
<line x1="369.5" y1="193" x2="369.5" y2="179.77" stroke="#000" stroke-width="0.95"/>
<line x1="369.5" y1="193" x2="369.5" y2="188.72" stroke="#000" stroke-width="0.95"/>
<line x1="369.5" y1="193" x2="369.5" y2="189.2" stroke="#000" stroke-width="0.95"/>
<line x1="369.5" y1="193" x2="369.5" y2="191.45" stroke="#000" stroke-width="0.95"/>
<line x1="369.5" y1="193" x2="369.5" y2="189.81" stroke="#000" stroke-width="0.95"/>
<line x1="369.5" y1="193" x2="369.5" y2="190.06" stroke="#000" stroke-width="0.95"/>
<line x1="369.5" y1="193" x2="369.5" y2="176.3" stroke="#000" stroke-width="0.95"/>
<line x1="370.5" y1="193" x2="370.5" y2="189.05" stroke="#000" stroke-width="0.95"/>
<line x1="370.5" y1="193" x2="370.5" y2="191.24" stroke="#000" stroke-width="0.95"/>
<line x1="370.5" y1="193" x2="370.5" y2="187.8" stroke="#000" stroke-width="0.95"/>
<line x1="370.5" y1="193" x2="370.5" y2="192.08" stroke="#000" stroke-width="0.95"/>
<line x1="371.5" y1="193" x2="371.5" y2="179.27" stroke="#000" stroke-width="0.95"/>
<line x1="371.5" y1="193" x2="371.5" y2="183.24" stroke="#000" stroke-width="0.95"/>
<line x1="371.5" y1="193" x2="371.5" y2="191.91" stroke="#000" stroke-width="0.95"/>
<line x1="371.5" y1="193" x2="371.5" y2="184.73" stroke="#000" stroke-width="0.95"/>
<line x1="372.5" y1="193" x2="372.5" y2="192.47" stroke="#000" stroke-width="0.95"/>
<line x1="372.5" y1="193" x2="372.5" y2="189.35" stroke="#000" stroke-width="0.95"/>
<line x1="373.5" y1="193" x2="373.5" y2="181.26" stroke="#000" stroke-width="0.95"/>
<line x1="373.5" y1="193" x2="373.5" y2="175.3" stroke="#000" stroke-width="0.95"/>
<line x1="373.5" y1="193" x2="373.5" y2="188.32" stroke="#000" stroke-width="0.95"/>
<line x1="374.5" y1="193" x2="374.5" y2="191.11" stroke="#000" stroke-width="0.95"/>
<line x1="375.5" y1="193" x2="375.5" y2="184.73" stroke="#000" stroke-width="0.95"/>
<line x1="379.5" y1="193" x2="379.5" y2="185.22" stroke="#000" stroke-width="0.95"/>
<line x1="379.5" y1="193" x2="379.5" y2="185.22" stroke="#000" stroke-width="0.95"/>
<line x1="383.5" y1="193" x2="383.5" y2="187.21" stroke="#000" stroke-width="0.95"/>
<line x1="387.5" y1="193" x2="387.5" y2="187.21" stroke="#000" stroke-width="0.95"/>
<line x1="391.5" y1="193" x2="391.5" y2="181.75" stroke="#000" stroke-width="0.95"/>
<line x1="411.5" y1="193" x2="411.5" y2="184.23" stroke="#000" stroke-width="0.95"/>
<line x1="420.5" y1="193" x2="420.5" y2="188.2" stroke="#000" stroke-width="0.95"/>
<rect x="499.5" y="37.5" width="185" height="162" fill="none" stroke="#2a2a2a" stroke-width="1.05"/>
<line x1="499.4" y1="133.5" x2="684.4" y2="133.5" stroke="#333" stroke-width="0.9" stroke-dasharray="1.4,1.76"/>
<line x1="495" y1="53.3" x2="499.4" y2="53.3" stroke="#111" stroke-width="0.9"/>
<text transform="translate(489.2,53.3) rotate(-90) scale(0.97,1)" font-family="Liberation Sans" font-size="6.6" font-weight="normal" text-anchor="middle" fill="#000" stroke="#000" stroke-width="0.18">100</text>
<line x1="495" y1="73.3" x2="499.4" y2="73.3" stroke="#111" stroke-width="0.9"/>
<text transform="translate(489.2,73.3) rotate(-90) scale(0.97,1)" font-family="Liberation Sans" font-size="6.6" font-weight="normal" text-anchor="middle" fill="#000" stroke="#000" stroke-width="0.18">10</text>
<line x1="495" y1="93.3" x2="499.4" y2="93.3" stroke="#111" stroke-width="0.9"/>
<text transform="translate(489.2,93.3) rotate(-90) scale(0.97,1)" font-family="Liberation Sans" font-size="6.6" font-weight="normal" text-anchor="middle" fill="#000" stroke="#000" stroke-width="0.18">1</text>
<line x1="495" y1="113.3" x2="499.4" y2="113.3" stroke="#111" stroke-width="0.9"/>
<text transform="translate(489.2,113.3) rotate(-90) scale(0.97,1)" font-family="Liberation Sans" font-size="6.6" font-weight="normal" text-anchor="middle" fill="#000" stroke="#000" stroke-width="0.18">0.1</text>
<line x1="495" y1="138.6" x2="499.4" y2="138.6" stroke="#111" stroke-width="0.9"/>
<text transform="translate(489.2,138.6) rotate(-90) scale(0.97,1)" font-family="Liberation Sans" font-size="6.6" font-weight="normal" text-anchor="middle" fill="#000" stroke="#000" stroke-width="0.18">7</text>
<line x1="495" y1="148.48" x2="499.4" y2="148.48" stroke="#111" stroke-width="0.9"/>
<text transform="translate(489.2,148.48) rotate(-90) scale(0.97,1)" font-family="Liberation Sans" font-size="6.6" font-weight="normal" text-anchor="middle" fill="#000" stroke="#000" stroke-width="0.18">6</text>
<line x1="495" y1="158.36" x2="499.4" y2="158.36" stroke="#111" stroke-width="0.9"/>
<text transform="translate(489.2,158.36) rotate(-90) scale(0.97,1)" font-family="Liberation Sans" font-size="6.6" font-weight="normal" text-anchor="middle" fill="#000" stroke="#000" stroke-width="0.18">5</text>
<line x1="495" y1="168.24" x2="499.4" y2="168.24" stroke="#111" stroke-width="0.9"/>
<text transform="translate(489.2,168.24) rotate(-90) scale(0.97,1)" font-family="Liberation Sans" font-size="6.6" font-weight="normal" text-anchor="middle" fill="#000" stroke="#000" stroke-width="0.18">4</text>
<line x1="495" y1="178.12" x2="499.4" y2="178.12" stroke="#111" stroke-width="0.9"/>
<text transform="translate(489.2,178.12) rotate(-90) scale(0.97,1)" font-family="Liberation Sans" font-size="6.6" font-weight="normal" text-anchor="middle" fill="#000" stroke="#000" stroke-width="0.18">3</text>
<line x1="495" y1="188" x2="499.4" y2="188" stroke="#111" stroke-width="0.9"/>
<text transform="translate(489.2,188) rotate(-90) scale(0.97,1)" font-family="Liberation Sans" font-size="6.6" font-weight="normal" text-anchor="middle" fill="#000" stroke="#000" stroke-width="0.18">2</text>
<line x1="531.2" y1="199.2" x2="531.2" y2="203.4" stroke="#111" stroke-width="0.9"/>
<text transform="translate(531.2,213.6) rotate(0) scale(0.97,1)" font-family="Liberation Sans" font-size="6.6" font-weight="normal" text-anchor="middle" fill="#000" stroke="#000" stroke-width="0.18">−100</text>
<line x1="566.48" y1="199.2" x2="566.48" y2="203.4" stroke="#111" stroke-width="0.9"/>
<text transform="translate(566.48,213.6) rotate(0) scale(0.97,1)" font-family="Liberation Sans" font-size="6.6" font-weight="normal" text-anchor="middle" fill="#000" stroke="#000" stroke-width="0.18">−50</text>
<line x1="601.75" y1="199.2" x2="601.75" y2="203.4" stroke="#111" stroke-width="0.9"/>
<text transform="translate(601.75,213.6) rotate(0) scale(0.97,1)" font-family="Liberation Sans" font-size="6.6" font-weight="normal" text-anchor="middle" fill="#000" stroke="#000" stroke-width="0.18">0</text>
<line x1="637.02" y1="199.2" x2="637.02" y2="203.4" stroke="#111" stroke-width="0.9"/>
<text transform="translate(637.02,213.6) rotate(0) scale(0.97,1)" font-family="Liberation Sans" font-size="6.6" font-weight="normal" text-anchor="middle" fill="#000" stroke="#000" stroke-width="0.18">50</text>
<line x1="672.3" y1="199.2" x2="672.3" y2="203.4" stroke="#111" stroke-width="0.9"/>
<text transform="translate(672.3,213.6) rotate(0) scale(0.97,1)" font-family="Liberation Sans" font-size="6.6" font-weight="normal" text-anchor="middle" fill="#000" stroke="#000" stroke-width="0.18">100</text>
<text transform="translate(591.9,229.1) rotate(0) scale(1.0,1)" font-family="Liberation Sans" font-size="7.4" font-weight="normal" text-anchor="middle" fill="#000" stroke="#000" stroke-width="0.18">Time</text>
<text transform="translate(474.7,89.2) rotate(-90) scale(0.98,1.1)" font-family="Liberation Sans" font-size="7.4" font-weight="normal" text-anchor="middle" fill="#000" stroke="#000" stroke-width="0.18">Events/Day</text>
<text transform="translate(474.7,165.8) rotate(-90) scale(1.0,1.1)" font-family="Liberation Sans" font-size="7.4" font-weight="normal" text-anchor="middle" fill="#000" stroke="#000" stroke-width="0.18">Magnitude</text>
<path d="M522.73,64.46 L522.82,85.95 L523.23,96.58 L523.72,101.47 L523.72,78.37 L523.77,94.41 L523.96,100.37 L524.68,105.39 L526.04,109.91 L527.36,112.67 L529,115.17 L530.99,117.44 L533.37,119.52 L536.17,121.44 L539.43,123.23 L543.19,124.9 L547.45,126.46 L557.2,129.19 L569.22,131.66 L583.75,133.9 L601.04,135.96 L601.04,62.1 L601.26,94.25 L601.65,102.33 L602.31,108.29 L602.31,57.39 L602.35,68.92 L602.39,65.24 L602.43,71.05 L602.43,66.2 L602.48,72.32 L602.48,67.07 L602.49,72.6 L602.49,66.41 L602.54,73.06 L602.54,67.28 L602.56,73.43 L602.56,67.28 L602.58,73.74 L602.58,66.96 L602.61,73.93 L602.61,67.35 L602.73,76.67 L602.81,68.58 L602.85,77.43 L602.9,69.76 L603,78.97 L603,69.34 L603.06,79.15 L603.12,70.43 L603.17,79.35 L603.26,72.55 L603.34,81.69 L603.34,70.61 L603.42,81.82 L603.42,70.01 L603.6,82.62 L603.6,70.94 L603.7,82.99 L603.7,70.49 L603.78,82.53 L603.81,72.26 L603.93,83.99 L603.93,71.98 L604.05,84.49 L604.05,72.59 L604.19,85.07 L604.19,72.42 L604.33,85.56 L604.33,70.62 L604.45,85.11 L604.49,72.42 L604.57,84.76 L604.65,73.19 L604.83,86.98 L604.83,73.96 L605.03,87.64 L605.03,74.3 L605.23,88.26 L605.23,71.02 L605.33,86.43 L605.45,88.32 L605.45,74.97 L605.49,85.61 L605.69,89.17 L605.69,72.77 L605.74,85.43 L605.95,89.53 L605.95,71.52 L606.03,86.98 L606.22,89.78 L606.22,72.65 L606.27,86.03 L606.52,90.31 L606.52,71.9 L606.65,88.63 L606.84,90.69 L606.84,74.33 L606.89,87.51 L607.18,91.43 L607.18,73.55 L607.24,87.78 L607.54,91.94 L607.54,72.12 L607.65,89.27 L607.94,92.26 L607.94,75.29 L608,89.21 L608.36,93.05 L608.36,72.27 L608.43,88.56 L608.77,93.13 L608.81,73.48 L608.88,89.03 L609.19,93.39 L609.3,77.56 L609.41,92.26 L609.69,94.31 L610.36,96.08 L610.36,77.86 L610.4,91.36 L610.61,95.22 L610.94,96.43 L611.6,97.63 L614.03,100.32 L614.03,78.29 L614.12,96.31 L614.31,98.73 L614.73,100.07 L614.73,78.27 L614.78,94.1 L615.02,98.72 L615.34,99.93 L615.95,100.92 L617.03,101.96 L618.61,103.08 L618.61,78.47 L618.67,95.88 L618.92,101.04 L619.24,102.23 L619.84,103.1 L620.95,103.98 L622.7,104.97 L622.7,78.58 L622.77,96.87 L623.03,102.54 L623.34,103.81 L623.93,104.69 L624.99,105.5 L626.72,106.37 L626.72,78.64 L626.85,100.59 L627.08,103.78 L627.59,105.4 L628.19,106.11 L629.16,106.77 L632.74,108.21 L638.66,109.89 L646.13,111.53 L646.13,78.8 L646.31,104.66 L646.66,108.38 L646.98,109.44 L647.44,110.22 L648.29,110.92 L649.63,111.51 L654.73,112.74 L664.52,114.32 L677.24,115.92" fill="none" stroke="#000" stroke-width="0.95" stroke-linejoin="round"/>
<line x1="522.5" y1="193" x2="522.5" y2="166.26" stroke="#000" stroke-width="0.95"/>
<line x1="523.5" y1="193" x2="523.5" y2="182.07" stroke="#000" stroke-width="0.95"/>
<line x1="523.5" y1="193" x2="523.5" y2="188" stroke="#000" stroke-width="0.95"/>
<line x1="523.5" y1="193" x2="523.5" y2="189.98" stroke="#000" stroke-width="0.95"/>
<line x1="523.5" y1="193" x2="523.5" y2="188.99" stroke="#000" stroke-width="0.95"/>
<line x1="523.5" y1="193" x2="523.5" y2="190.96" stroke="#000" stroke-width="0.95"/>
<line x1="523.5" y1="193" x2="523.5" y2="188" stroke="#000" stroke-width="0.95"/>
<line x1="523.5" y1="193" x2="523.5" y2="191.95" stroke="#000" stroke-width="0.95"/>
<line x1="523.5" y1="193" x2="523.5" y2="189.98" stroke="#000" stroke-width="0.95"/>
<line x1="523.5" y1="193" x2="523.5" y2="191.95" stroke="#000" stroke-width="0.95"/>
<line x1="524.5" y1="193" x2="524.5" y2="190.96" stroke="#000" stroke-width="0.95"/>
<line x1="601.5" y1="193" x2="601.5" y2="161.32" stroke="#000" stroke-width="0.95"/>
<line x1="602.5" y1="193" x2="602.5" y2="156.38" stroke="#000" stroke-width="0.95"/>
<line x1="602.5" y1="193" x2="602.5" y2="184.05" stroke="#000" stroke-width="0.95"/>
<line x1="602.5" y1="193" x2="602.5" y2="191.7" stroke="#000" stroke-width="0.95"/>
<line x1="602.5" y1="193" x2="602.5" y2="189.23" stroke="#000" stroke-width="0.95"/>
<line x1="602.5" y1="193" x2="602.5" y2="192.09" stroke="#000" stroke-width="0.95"/>
<line x1="602.5" y1="193" x2="602.5" y2="189.8" stroke="#000" stroke-width="0.95"/>
<line x1="602.5" y1="193" x2="602.5" y2="190.64" stroke="#000" stroke-width="0.95"/>
<line x1="602.5" y1="193" x2="602.5" y2="192.16" stroke="#000" stroke-width="0.95"/>
<line x1="602.5" y1="193" x2="602.5" y2="189.94" stroke="#000" stroke-width="0.95"/>
<line x1="602.5" y1="193" x2="602.5" y2="192.26" stroke="#000" stroke-width="0.95"/>
<line x1="602.5" y1="193" x2="602.5" y2="190.3" stroke="#000" stroke-width="0.95"/>
<line x1="602.5" y1="193" x2="602.5" y2="192.1" stroke="#000" stroke-width="0.95"/>
<line x1="602.5" y1="193" x2="602.5" y2="192" stroke="#000" stroke-width="0.95"/>
<line x1="602.5" y1="193" x2="602.5" y2="190.35" stroke="#000" stroke-width="0.95"/>
<line x1="602.5" y1="193" x2="602.5" y2="186.02" stroke="#000" stroke-width="0.95"/>
<line x1="602.5" y1="193" x2="602.5" y2="191.83" stroke="#000" stroke-width="0.95"/>
<line x1="602.5" y1="193" x2="602.5" y2="191.34" stroke="#000" stroke-width="0.95"/>
<line x1="602.5" y1="193" x2="602.5" y2="189.35" stroke="#000" stroke-width="0.95"/>
<line x1="602.5" y1="193" x2="602.5" y2="187.76" stroke="#000" stroke-width="0.95"/>
<line x1="602.5" y1="193" x2="602.5" y2="189.6" stroke="#000" stroke-width="0.95"/>
<line x1="602.5" y1="193" x2="602.5" y2="190.49" stroke="#000" stroke-width="0.95"/>
<line x1="602.5" y1="193" x2="602.5" y2="187.62" stroke="#000" stroke-width="0.95"/>
<line x1="602.5" y1="193" x2="602.5" y2="192.22" stroke="#000" stroke-width="0.95"/>
<line x1="602.5" y1="193" x2="602.5" y2="188.21" stroke="#000" stroke-width="0.95"/>
<line x1="602.5" y1="193" x2="602.5" y2="191.02" stroke="#000" stroke-width="0.95"/>
<line x1="602.5" y1="193" x2="602.5" y2="191.73" stroke="#000" stroke-width="0.95"/>
<line x1="603.5" y1="193" x2="603.5" y2="191.86" stroke="#000" stroke-width="0.95"/>
<line x1="603.5" y1="193" x2="603.5" y2="190.92" stroke="#000" stroke-width="0.95"/>
<line x1="603.5" y1="193" x2="603.5" y2="188.41" stroke="#000" stroke-width="0.95"/>
<line x1="603.5" y1="193" x2="603.5" y2="175.16" stroke="#000" stroke-width="0.95"/>
<line x1="603.5" y1="193" x2="603.5" y2="189.57" stroke="#000" stroke-width="0.95"/>
<line x1="603.5" y1="193" x2="603.5" y2="189.29" stroke="#000" stroke-width="0.95"/>
<line x1="603.5" y1="193" x2="603.5" y2="190.61" stroke="#000" stroke-width="0.95"/>
<line x1="603.5" y1="193" x2="603.5" y2="189.74" stroke="#000" stroke-width="0.95"/>
<line x1="603.5" y1="193" x2="603.5" y2="192.14" stroke="#000" stroke-width="0.95"/>
<line x1="603.5" y1="193" x2="603.5" y2="192.15" stroke="#000" stroke-width="0.95"/>
<line x1="603.5" y1="193" x2="603.5" y2="182.07" stroke="#000" stroke-width="0.95"/>
<line x1="603.5" y1="193" x2="603.5" y2="189.08" stroke="#000" stroke-width="0.95"/>
<line x1="603.5" y1="193" x2="603.5" y2="190.33" stroke="#000" stroke-width="0.95"/>
<line x1="603.5" y1="193" x2="603.5" y2="190.89" stroke="#000" stroke-width="0.95"/>
<line x1="603.5" y1="193" x2="603.5" y2="189.55" stroke="#000" stroke-width="0.95"/>
<line x1="604.5" y1="193" x2="604.5" y2="190.21" stroke="#000" stroke-width="0.95"/>
<line x1="604.5" y1="193" x2="604.5" y2="179.6" stroke="#000" stroke-width="0.95"/>
<line x1="604.5" y1="193" x2="604.5" y2="188.52" stroke="#000" stroke-width="0.95"/>
<line x1="604.5" y1="193" x2="604.5" y2="188.99" stroke="#000" stroke-width="0.95"/>
<line x1="604.5" y1="193" x2="604.5" y2="191.24" stroke="#000" stroke-width="0.95"/>
<line x1="604.5" y1="193" x2="604.5" y2="189.61" stroke="#000" stroke-width="0.95"/>
<line x1="604.5" y1="193" x2="604.5" y2="189.85" stroke="#000" stroke-width="0.95"/>
<line x1="605.5" y1="193" x2="605.5" y2="176.14" stroke="#000" stroke-width="0.95"/>
<line x1="605.5" y1="193" x2="605.5" y2="188.84" stroke="#000" stroke-width="0.95"/>
<line x1="605.5" y1="193" x2="605.5" y2="191.02" stroke="#000" stroke-width="0.95"/>
<line x1="605.5" y1="193" x2="605.5" y2="187.6" stroke="#000" stroke-width="0.95"/>
<line x1="605.5" y1="193" x2="605.5" y2="191.86" stroke="#000" stroke-width="0.95"/>
<line x1="606.5" y1="193" x2="606.5" y2="179.11" stroke="#000" stroke-width="0.95"/>
<line x1="606.5" y1="193" x2="606.5" y2="183.06" stroke="#000" stroke-width="0.95"/>
<line x1="606.5" y1="193" x2="606.5" y2="191.7" stroke="#000" stroke-width="0.95"/>
<line x1="607.5" y1="193" x2="607.5" y2="184.54" stroke="#000" stroke-width="0.95"/>
<line x1="607.5" y1="193" x2="607.5" y2="192.25" stroke="#000" stroke-width="0.95"/>
<line x1="607.5" y1="193" x2="607.5" y2="189.15" stroke="#000" stroke-width="0.95"/>
<line x1="608.5" y1="193" x2="608.5" y2="181.08" stroke="#000" stroke-width="0.95"/>
<line x1="608.5" y1="193" x2="608.5" y2="175.16" stroke="#000" stroke-width="0.95"/>
<line x1="609.5" y1="193" x2="609.5" y2="188.12" stroke="#000" stroke-width="0.95"/>
<line x1="609.5" y1="193" x2="609.5" y2="190.9" stroke="#000" stroke-width="0.95"/>
<line x1="610.5" y1="193" x2="610.5" y2="184.54" stroke="#000" stroke-width="0.95"/>
<line x1="614.5" y1="193" x2="614.5" y2="185.04" stroke="#000" stroke-width="0.95"/>
<line x1="614.5" y1="193" x2="614.5" y2="185.04" stroke="#000" stroke-width="0.95"/>
<line x1="618.5" y1="193" x2="618.5" y2="187.01" stroke="#000" stroke-width="0.95"/>
<line x1="622.5" y1="193" x2="622.5" y2="187.01" stroke="#000" stroke-width="0.95"/>
<line x1="626.5" y1="193" x2="626.5" y2="181.58" stroke="#000" stroke-width="0.95"/>
<line x1="646.5" y1="193" x2="646.5" y2="184.05" stroke="#000" stroke-width="0.95"/>
<rect x="29.5" y="245.5" width="182" height="159" fill="none" stroke="#2a2a2a" stroke-width="1.05"/>
<line x1="25.4" y1="398.3" x2="29.8" y2="398.3" stroke="#111" stroke-width="0.9"/>
<text transform="translate(20.2,398.3) rotate(-90) scale(0.97,1)" font-family="Liberation Sans" font-size="6.6" font-weight="normal" text-anchor="middle" fill="#000" stroke="#000" stroke-width="0.18">0</text>
<line x1="25.4" y1="366.5" x2="29.8" y2="366.5" stroke="#111" stroke-width="0.9"/>
<text transform="translate(20.2,366.5) rotate(-90) scale(0.97,1)" font-family="Liberation Sans" font-size="6.6" font-weight="normal" text-anchor="middle" fill="#000" stroke="#000" stroke-width="0.18">20</text>
<line x1="25.4" y1="334.7" x2="29.8" y2="334.7" stroke="#111" stroke-width="0.9"/>
<text transform="translate(20.2,334.7) rotate(-90) scale(0.97,1)" font-family="Liberation Sans" font-size="6.6" font-weight="normal" text-anchor="middle" fill="#000" stroke="#000" stroke-width="0.18">40</text>
<line x1="25.4" y1="302.9" x2="29.8" y2="302.9" stroke="#111" stroke-width="0.9"/>
<text transform="translate(20.2,302.9) rotate(-90) scale(0.97,1)" font-family="Liberation Sans" font-size="6.6" font-weight="normal" text-anchor="middle" fill="#000" stroke="#000" stroke-width="0.18">60</text>
<line x1="25.4" y1="271.1" x2="29.8" y2="271.1" stroke="#111" stroke-width="0.9"/>
<text transform="translate(20.2,271.1) rotate(-90) scale(0.97,1)" font-family="Liberation Sans" font-size="6.6" font-weight="normal" text-anchor="middle" fill="#000" stroke="#000" stroke-width="0.18">80</text>
<line x1="36.7" y1="404.3" x2="36.7" y2="408.5" stroke="#111" stroke-width="0.9"/>
<text transform="translate(36.7,417.9) rotate(0) scale(0.97,1)" font-family="Liberation Sans" font-size="6.6" font-weight="normal" text-anchor="middle" fill="#000" stroke="#000" stroke-width="0.18">0</text>
<line x1="71.4" y1="404.3" x2="71.4" y2="408.5" stroke="#111" stroke-width="0.9"/>
<text transform="translate(71.4,417.9) rotate(0) scale(0.97,1)" font-family="Liberation Sans" font-size="6.6" font-weight="normal" text-anchor="middle" fill="#000" stroke="#000" stroke-width="0.18">50</text>
<line x1="106.1" y1="404.3" x2="106.1" y2="408.5" stroke="#111" stroke-width="0.9"/>
<text transform="translate(106.1,417.9) rotate(0) scale(0.97,1)" font-family="Liberation Sans" font-size="6.6" font-weight="normal" text-anchor="middle" fill="#000" stroke="#000" stroke-width="0.18">100</text>
<line x1="140.8" y1="404.3" x2="140.8" y2="408.5" stroke="#111" stroke-width="0.9"/>
<text transform="translate(140.8,417.9) rotate(0) scale(0.97,1)" font-family="Liberation Sans" font-size="6.6" font-weight="normal" text-anchor="middle" fill="#000" stroke="#000" stroke-width="0.18">150</text>
<line x1="175.5" y1="404.3" x2="175.5" y2="408.5" stroke="#111" stroke-width="0.9"/>
<text transform="translate(175.5,417.9) rotate(0) scale(0.97,1)" font-family="Liberation Sans" font-size="6.6" font-weight="normal" text-anchor="middle" fill="#000" stroke="#000" stroke-width="0.18">200</text>
<line x1="210.2" y1="404.3" x2="210.2" y2="408.5" stroke="#111" stroke-width="0.9"/>
<text transform="translate(210.2,417.9) rotate(0) scale(0.97,1)" font-family="Liberation Sans" font-size="6.6" font-weight="normal" text-anchor="middle" fill="#000" stroke="#000" stroke-width="0.18">250</text>
<text transform="translate(120.45,432.9) rotate(0) scale(1.0,1)" font-family="Liberation Sans" font-size="7.4" font-weight="normal" text-anchor="middle" fill="#000" stroke="#000" stroke-width="0.18">Times</text>
<text transform="translate(6,324.95) rotate(-90) scale(0.98,1.1)" font-family="Liberation Sans" font-size="7.4" font-weight="normal" text-anchor="middle" fill="#000" stroke="#000" stroke-width="0.18">Transformed Times</text>
<clipPath id="c2a"><rect x="29.8" y="245.6" width="181.3" height="158.7"/></clipPath><g clip-path="url(#c2a)">
<line x1="29.8" y1="398.4" x2="211.1" y2="398.4" stroke="#222" stroke-width="0.95" stroke-dasharray="1.75,1.41"/>
<line x1="29.8" y1="381" x2="211.1" y2="381" stroke="#8a8a8a" stroke-width="1.0" stroke-dasharray="1.5,1.66"/>
<line x1="29.8" y1="251.4" x2="211.1" y2="251.4" stroke="#333" stroke-width="0.9" stroke-dasharray="1.3,1.86"/>
<path d="M36.4,398.3 L44,398 L52.3,397 L53.2,390 L55.5,382.4 L62.5,381.5 L68.7,380.6 L74.9,379.8 L90,377.5 L110,373.8 L126.6,372.2 L130.3,369 L131.2,355 L132.1,317 L132.6,311.5 L134.2,300.7 L135.9,293 L137,285.4 L137.5,277.5 L139.1,273.2 L142.4,270.5 L146.7,267 L150,264.2 L157.5,260.5 L164.9,258.6 L172.4,257.4 L179.8,255.5 L187.3,253.9 L194.7,252.4 L203.4,251.5" fill="none" stroke="#6a1cff" stroke-width="1.15" stroke-dasharray="3,3.2" stroke-linejoin="round"/>
<path d="M36.2,396.6 L52.3,396.6 L52.3,380.2 L53.2,379 L129.2,379 L130.3,374.3 L131.2,350 L131.7,325 L132.1,317 L132.6,311.5 L134.2,300.7 L135.9,293 L137,285.4 L137.5,276.7 L139.1,272.9 L142.4,272.4 L143.5,266.4 L146.7,265.3 L148.4,264.2 L151.1,263.7 L152.7,262.6 L155.4,261.3 L174.2,261.1 L174.8,259.9 L182.9,259.9 L183.5,258.6 L204.9,258.6 L205.3,256.8" fill="none" stroke="#1a1a1a" stroke-width="1.05" stroke-linejoin="miter" stroke-miterlimit="3"/>
</g>
<rect x="265.5" y="245.5" width="184" height="161" fill="none" stroke="#2a2a2a" stroke-width="1.05"/>
<line x1="260.9" y1="386.5" x2="265.3" y2="386.5" stroke="#111" stroke-width="0.9"/>
<text transform="translate(255.7,386.5) rotate(-90) scale(0.97,1)" font-family="Liberation Sans" font-size="6.6" font-weight="normal" text-anchor="middle" fill="#000" stroke="#000" stroke-width="0.18">−50</text>
<line x1="260.9" y1="336.8" x2="265.3" y2="336.8" stroke="#111" stroke-width="0.9"/>
<text transform="translate(255.7,336.8) rotate(-90) scale(0.97,1)" font-family="Liberation Sans" font-size="6.6" font-weight="normal" text-anchor="middle" fill="#000" stroke="#000" stroke-width="0.18">0</text>
<line x1="260.9" y1="287.1" x2="265.3" y2="287.1" stroke="#111" stroke-width="0.9"/>
<text transform="translate(255.7,287.1) rotate(-90) scale(0.97,1)" font-family="Liberation Sans" font-size="6.6" font-weight="normal" text-anchor="middle" fill="#000" stroke="#000" stroke-width="0.18">50</text>
<line x1="297.4" y1="406.4" x2="297.4" y2="410.6" stroke="#111" stroke-width="0.9"/>
<text transform="translate(297.4,420.8) rotate(0) scale(0.97,1)" font-family="Liberation Sans" font-size="6.6" font-weight="normal" text-anchor="middle" fill="#000" stroke="#000" stroke-width="0.18">−100</text>
<line x1="332.62" y1="406.4" x2="332.62" y2="410.6" stroke="#111" stroke-width="0.9"/>
<text transform="translate(332.62,420.8) rotate(0) scale(0.97,1)" font-family="Liberation Sans" font-size="6.6" font-weight="normal" text-anchor="middle" fill="#000" stroke="#000" stroke-width="0.18">−50</text>
<line x1="367.85" y1="406.4" x2="367.85" y2="410.6" stroke="#111" stroke-width="0.9"/>
<text transform="translate(367.85,420.8) rotate(0) scale(0.97,1)" font-family="Liberation Sans" font-size="6.6" font-weight="normal" text-anchor="middle" fill="#000" stroke="#000" stroke-width="0.18">0</text>
<line x1="403.08" y1="406.4" x2="403.08" y2="410.6" stroke="#111" stroke-width="0.9"/>
<text transform="translate(403.08,420.8) rotate(0) scale(0.97,1)" font-family="Liberation Sans" font-size="6.6" font-weight="normal" text-anchor="middle" fill="#000" stroke="#000" stroke-width="0.18">50</text>
<line x1="438.3" y1="406.4" x2="438.3" y2="410.6" stroke="#111" stroke-width="0.9"/>
<text transform="translate(438.3,420.8) rotate(0) scale(0.97,1)" font-family="Liberation Sans" font-size="6.6" font-weight="normal" text-anchor="middle" fill="#000" stroke="#000" stroke-width="0.18">100</text>
<text transform="translate(357.45,435.8) rotate(0) scale(1.0,1)" font-family="Liberation Sans" font-size="7.4" font-weight="normal" text-anchor="middle" fill="#000" stroke="#000" stroke-width="0.18">Times</text>
<text transform="translate(240.4,326) rotate(-90) scale(0.98,1.1)" font-family="Liberation Sans" font-size="7.4" font-weight="normal" text-anchor="middle" fill="#000" stroke="#000" stroke-width="0.18">Transformed Times</text>
<clipPath id="c2b"><rect x="265.3" y="245.6" width="184.3" height="160.8"/></clipPath><g clip-path="url(#c2b)">
<line x1="265.3" y1="336.8" x2="449.6" y2="336.8" stroke="#444" stroke-width="0.9" stroke-dasharray="1.3,1.86"/>
<line x1="265.3" y1="287.1" x2="449.6" y2="287.1" stroke="#444" stroke-width="0.9" stroke-dasharray="1.3,1.86"/>
<line x1="368" y1="245.6" x2="368" y2="406.4" stroke="#444" stroke-width="0.9" stroke-dasharray="1.3,1.86"/>
<path d="M272,400.5 L286,394 L288,391.8 L288.4,387.5 L290.1,385 L344.4,357.5 L367.2,345.2 L368.2,330 L368.7,318 L374.1,299.3 L378.8,291 L381.1,287.5 L384,285.4 L387.5,283 L440.7,252.6" fill="none" stroke="#6a1cff" stroke-width="1.15" stroke-dasharray="3,3.2" stroke-linejoin="round"/>
<path d="M272,368.6 L288.1,368.6 L288.1,358.6 L289.2,357.6 L366.4,357.6 L367.4,356 L368.1,340 L368.3,326.6 L368.7,318 L374.1,299.3 L374.7,292.9 L376.4,290.5 L378.8,290 L379.3,288.2 L381.1,286.5 L384,285.6 L388.7,284.7 L392.2,283.5 L411.5,283.5 L411.8,282.4 L420.2,282.4 L420.8,281.6 L442.4,281.6 L442.6,280.8" fill="none" stroke="#1a1a1a" stroke-width="1.05" stroke-linejoin="miter" stroke-miterlimit="3"/>
</g>
<rect x="500.5" y="245.5" width="184" height="161" fill="none" stroke="#2a2a2a" stroke-width="1.05"/>
<line x1="495.8" y1="391.85" x2="500.2" y2="391.85" stroke="#111" stroke-width="0.9"/>
<text transform="translate(490.6,391.85) rotate(-90) scale(0.97,1)" font-family="Liberation Sans" font-size="6.6" font-weight="normal" text-anchor="middle" fill="#000" stroke="#000" stroke-width="0.18">−10</text>
<line x1="495.8" y1="369.3" x2="500.2" y2="369.3" stroke="#111" stroke-width="0.9"/>
<text transform="translate(490.6,369.3) rotate(-90) scale(0.97,1)" font-family="Liberation Sans" font-size="6.6" font-weight="normal" text-anchor="middle" fill="#000" stroke="#000" stroke-width="0.18">0</text>
<line x1="495.8" y1="346.75" x2="500.2" y2="346.75" stroke="#111" stroke-width="0.9"/>
<text transform="translate(490.6,346.75) rotate(-90) scale(0.97,1)" font-family="Liberation Sans" font-size="6.6" font-weight="normal" text-anchor="middle" fill="#000" stroke="#000" stroke-width="0.18">10</text>
<line x1="495.8" y1="324.2" x2="500.2" y2="324.2" stroke="#111" stroke-width="0.9"/>
<text transform="translate(490.6,324.2) rotate(-90) scale(0.97,1)" font-family="Liberation Sans" font-size="6.6" font-weight="normal" text-anchor="middle" fill="#000" stroke="#000" stroke-width="0.18">20</text>
<line x1="495.8" y1="301.65" x2="500.2" y2="301.65" stroke="#111" stroke-width="0.9"/>
<text transform="translate(490.6,301.65) rotate(-90) scale(0.97,1)" font-family="Liberation Sans" font-size="6.6" font-weight="normal" text-anchor="middle" fill="#000" stroke="#000" stroke-width="0.18">30</text>
<line x1="495.8" y1="279.1" x2="500.2" y2="279.1" stroke="#111" stroke-width="0.9"/>
<text transform="translate(490.6,279.1) rotate(-90) scale(0.97,1)" font-family="Liberation Sans" font-size="6.6" font-weight="normal" text-anchor="middle" fill="#000" stroke="#000" stroke-width="0.18">40</text>
<line x1="495.8" y1="256.55" x2="500.2" y2="256.55" stroke="#111" stroke-width="0.9"/>
<text transform="translate(490.6,256.55) rotate(-90) scale(0.97,1)" font-family="Liberation Sans" font-size="6.6" font-weight="normal" text-anchor="middle" fill="#000" stroke="#000" stroke-width="0.18">50</text>
<line x1="532.8" y1="406.5" x2="532.8" y2="410.7" stroke="#111" stroke-width="0.9"/>
<text transform="translate(532.8,420.9) rotate(0) scale(0.97,1)" font-family="Liberation Sans" font-size="6.6" font-weight="normal" text-anchor="middle" fill="#000" stroke="#000" stroke-width="0.18">−100</text>
<line x1="567.8" y1="406.5" x2="567.8" y2="410.7" stroke="#111" stroke-width="0.9"/>
<text transform="translate(567.8,420.9) rotate(0) scale(0.97,1)" font-family="Liberation Sans" font-size="6.6" font-weight="normal" text-anchor="middle" fill="#000" stroke="#000" stroke-width="0.18">−50</text>
<line x1="602.8" y1="406.5" x2="602.8" y2="410.7" stroke="#111" stroke-width="0.9"/>
<text transform="translate(602.8,420.9) rotate(0) scale(0.97,1)" font-family="Liberation Sans" font-size="6.6" font-weight="normal" text-anchor="middle" fill="#000" stroke="#000" stroke-width="0.18">0</text>
<line x1="637.8" y1="406.5" x2="637.8" y2="410.7" stroke="#111" stroke-width="0.9"/>
<text transform="translate(637.8,420.9) rotate(0) scale(0.97,1)" font-family="Liberation Sans" font-size="6.6" font-weight="normal" text-anchor="middle" fill="#000" stroke="#000" stroke-width="0.18">50</text>
<line x1="672.8" y1="406.5" x2="672.8" y2="410.7" stroke="#111" stroke-width="0.9"/>
<text transform="translate(672.8,420.9) rotate(0) scale(0.97,1)" font-family="Liberation Sans" font-size="6.6" font-weight="normal" text-anchor="middle" fill="#000" stroke="#000" stroke-width="0.18">100</text>
<text transform="translate(592.35,435.9) rotate(0) scale(1.0,1)" font-family="Liberation Sans" font-size="7.4" font-weight="normal" text-anchor="middle" fill="#000" stroke="#000" stroke-width="0.18">Times</text>
<text transform="translate(475,326.05) rotate(-90) scale(0.98,1.1)" font-family="Liberation Sans" font-size="7.4" font-weight="normal" text-anchor="middle" fill="#000" stroke="#000" stroke-width="0.18">Transformed Times</text>
<clipPath id="c2c"><rect x="500.2" y="245.6" width="184.3" height="160.9"/></clipPath><g clip-path="url(#c2c)">
<line x1="500.2" y1="369.4" x2="684.5" y2="369.4" stroke="#333" stroke-width="0.9" stroke-dasharray="1.4,1.76"/>
<line x1="500.2" y1="281.6" x2="684.5" y2="281.6" stroke="#333" stroke-width="0.9" stroke-dasharray="1.4,1.76"/>
<path d="M506.1,400.6 L522.8,400.6 L523.7,396.8 L601.6,382.6 L602.3,365 L602.8,350 L603.4,335 L606.2,314.9 L609,296.7 L611.5,290 L614.6,284.1 L619.5,277.8 L624.3,273.6 L631.3,268.8 L642.5,262.5 L653.7,258.3 L664.9,254.8 L677.4,251.3" fill="none" stroke="#6a1cff" stroke-width="1.15" stroke-dasharray="3,3.2" stroke-linejoin="round"/>
<path d="M602.5,407 L602.5,351 L603.4,335 L606.2,314.9 L609,296.7 L609.7,290.4 L611.8,288.3 L613.2,287.6 L615.3,281.6 L618.8,279.2 L620.9,278.5 L623,276.4 L627.8,274.3 L646,274.3 L646.7,272.2 L677.4,272.2 L677.7,270.2" fill="none" stroke="#1a1a1a" stroke-width="1.05" stroke-linejoin="miter" stroke-miterlimit="3"/>
</g>
<rect x="30.5" y="453.5" width="184" height="161" fill="none" stroke="#2a2a2a" stroke-width="1.05"/>
<line x1="25.8" y1="608.2" x2="30.2" y2="608.2" stroke="#111" stroke-width="0.9"/>
<text transform="translate(20.6,608.2) rotate(-90) scale(0.97,1)" font-family="Liberation Sans" font-size="6.6" font-weight="normal" text-anchor="middle" fill="#000" stroke="#000" stroke-width="0.18">0</text>
<line x1="25.8" y1="574.4" x2="30.2" y2="574.4" stroke="#111" stroke-width="0.9"/>
<text transform="translate(20.6,574.4) rotate(-90) scale(0.97,1)" font-family="Liberation Sans" font-size="6.6" font-weight="normal" text-anchor="middle" fill="#000" stroke="#000" stroke-width="0.18">20</text>
<line x1="25.8" y1="540.6" x2="30.2" y2="540.6" stroke="#111" stroke-width="0.9"/>
<text transform="translate(20.6,540.6) rotate(-90) scale(0.97,1)" font-family="Liberation Sans" font-size="6.6" font-weight="normal" text-anchor="middle" fill="#000" stroke="#000" stroke-width="0.18">40</text>
<line x1="25.8" y1="506.8" x2="30.2" y2="506.8" stroke="#111" stroke-width="0.9"/>
<text transform="translate(20.6,506.8) rotate(-90) scale(0.97,1)" font-family="Liberation Sans" font-size="6.6" font-weight="normal" text-anchor="middle" fill="#000" stroke="#000" stroke-width="0.18">60</text>
<line x1="25.8" y1="473" x2="30.2" y2="473" stroke="#111" stroke-width="0.9"/>
<text transform="translate(20.6,473) rotate(-90) scale(0.97,1)" font-family="Liberation Sans" font-size="6.6" font-weight="normal" text-anchor="middle" fill="#000" stroke="#000" stroke-width="0.18">80</text>
<line x1="37.3" y1="614.2" x2="37.3" y2="618.4" stroke="#111" stroke-width="0.9"/>
<text transform="translate(37.3,628) rotate(0) scale(0.97,1)" font-family="Liberation Sans" font-size="6.6" font-weight="normal" text-anchor="middle" fill="#000" stroke="#000" stroke-width="0.18">0</text>
<line x1="74.34" y1="614.2" x2="74.34" y2="618.4" stroke="#111" stroke-width="0.9"/>
<text transform="translate(74.34,628) rotate(0) scale(0.97,1)" font-family="Liberation Sans" font-size="6.6" font-weight="normal" text-anchor="middle" fill="#000" stroke="#000" stroke-width="0.18">20</text>
<line x1="111.38" y1="614.2" x2="111.38" y2="618.4" stroke="#111" stroke-width="0.9"/>
<text transform="translate(111.38,628) rotate(0) scale(0.97,1)" font-family="Liberation Sans" font-size="6.6" font-weight="normal" text-anchor="middle" fill="#000" stroke="#000" stroke-width="0.18">40</text>
<line x1="148.42" y1="614.2" x2="148.42" y2="618.4" stroke="#111" stroke-width="0.9"/>
<text transform="translate(148.42,628) rotate(0) scale(0.97,1)" font-family="Liberation Sans" font-size="6.6" font-weight="normal" text-anchor="middle" fill="#000" stroke="#000" stroke-width="0.18">60</text>
<line x1="185.46" y1="614.2" x2="185.46" y2="618.4" stroke="#111" stroke-width="0.9"/>
<text transform="translate(185.46,628) rotate(0) scale(0.97,1)" font-family="Liberation Sans" font-size="6.6" font-weight="normal" text-anchor="middle" fill="#000" stroke="#000" stroke-width="0.18">80</text>
<text transform="translate(122.4,643.2) rotate(0) scale(1.0,1)" font-family="Liberation Sans" font-size="7.6" font-weight="normal" text-anchor="middle" fill="#000" stroke="#000" stroke-width="0.18">Transformed Times</text>
<text transform="translate(5.9,533.6) rotate(-90) scale(0.98,1.1)" font-family="Liberation Sans" font-size="7.4" font-weight="normal" text-anchor="middle" fill="#000" stroke="#000" stroke-width="0.18">Cum. #</text>
<clipPath id="c3a"><rect x="30.2" y="453" width="184.4" height="161.2"/></clipPath><g clip-path="url(#c3a)">
<line x1="30.2" y1="608.1" x2="214.6" y2="608.1" stroke="#333" stroke-width="1.0" stroke-dasharray="2.2,2.6"/>
<line x1="37.4" y1="453" x2="37.4" y2="614.2" stroke="#333" stroke-width="1.0" stroke-dasharray="4.8,1.2,1.8,1.2"/>
<line x1="57.6" y1="453" x2="57.6" y2="614.2" stroke="#333" stroke-width="1.0" stroke-dasharray="1.4,1.8"/>
<line x1="208" y1="453" x2="208" y2="614.2" stroke="#888" stroke-width="1.0" stroke-dasharray="1.6,1.6"/>
<line x1="28.04" y1="616.65" x2="222.5" y2="439.2" stroke="#222" stroke-width="0.8" stroke-dasharray="1.6,2.6"/>
<path d="M37.6,608 L38.3,608 L38.3,606.5 L39,606.5 L39,605 L40,605 L40,603.25 L41,603.25 L41,601.5 L42,601.5 L42,599.75 L43,599.75 L43,598 L43.8,598 L43.8,596.15 L44.6,596.15 L44.6,594.3 L45.5,594 L51,593.7 L52.5,593.7 L52.5,591.5 L56.3,591.5 L56.3,589.6 L66.2,589 L68,589 L68,588 L69,588 L69,586 L70,586 L70,584 L71,584 L71,582.5 L72,582.5 L72,581 L73.2,581 L73.2,579.2 L74.4,579.2 L74.4,577.4 L75.27,577.4 L75.27,575.6 L76.13,575.6 L76.13,573.8 L77,573.8 L77,572 L77.8,572 L77.8,570.42 L78.6,570.42 L78.6,568.85 L79.4,568.85 L79.4,567.27 L80.2,567.27 L80.2,565.7 L82,565.7 L82,563.5 L83.45,563.5 L83.45,561.95 L84.9,561.95 L84.9,560.4 L88.4,560.4 L88.4,558.7 L89.45,558.7 L89.45,557.1 L90.5,557.1 L90.5,555.5 L93.6,555.5 L93.6,553 L94.83,553 L94.83,551.27 L96.07,551.27 L96.07,549.53 L97.3,549.53 L97.3,547.8 L98.65,547.8 L98.65,545.9 L100,545.9 L100,544 L101.3,544 L101.3,542.1 L102.6,542.1 L102.6,540.2 L104,540.2 L104,539 L107.8,539 L107.8,537.3 L116.6,536.7 L117.8,536.7 L117.8,534.85 L119,534.85 L119,533 L119.97,533 L119.97,531.5 L120.93,531.5 L120.93,530 L121.9,530 L121.9,528.5 L122.47,528.5 L122.47,526.97 L123.03,526.97 L123.03,525.43 L123.6,525.43 L123.6,523.9 L128.9,523.9 L128.9,521.5 L132.4,521.5 L133.57,521.5 L133.57,519.77 L134.73,519.77 L134.73,518.03 L135.9,518.03 L135.9,516.3 L138.8,516.3 L138.8,514.85 L141.7,514.85 L141.7,513.4 L143.45,513.4 L143.45,511.35 L145.2,511.35 L145.2,509.3 L146.95,509.3 L146.95,507.25 L148.7,507.25 L148.7,505.2 L153.4,505.2 L153.4,502.8 L154.55,502.8 L154.55,501.05 L155.7,501.05 L155.7,499.3 L159.2,499.3 L159.2,497.6 L160.57,497.6 L160.57,495.63 L161.93,495.63 L161.93,493.67 L163.3,493.67 L163.3,491.7 L165.45,491.7 L165.45,489.85 L167.6,489.85 L167.6,488 L168.83,488 L168.83,486.23 L170.07,486.23 L170.07,484.47 L171.3,484.47 L171.3,482.7 L173.7,483.2 L175.93,483.2 L175.93,481.3 L178.17,481.3 L178.17,479.4 L180.4,479.4 L180.4,477.5 L184.2,477.5 L184.2,475.1 L185.77,475.1 L185.77,473.23 L187.33,473.23 L187.33,471.37 L188.9,471.37 L188.9,469.5 L191.7,469 L193.3,469 L193.3,467.27 L194.9,467.27 L194.9,465.53 L196.5,465.53 L196.5,463.8 L199.3,464.2 L201.7,464.2 L201.7,462.55 L204.1,462.55 L204.1,460.9 L208.3,460.9 L208.3,460" fill="none" stroke="#6a1cff" stroke-width="1.0" stroke-linejoin="miter"/>
<circle cx="38.3" cy="606.5" r="0.65" fill="none" stroke="#111" stroke-width="0.6"/>
<circle cx="39" cy="605" r="0.65" fill="none" stroke="#111" stroke-width="0.6"/>
<circle cx="40" cy="603.25" r="0.65" fill="none" stroke="#111" stroke-width="0.6"/>
<circle cx="41" cy="601.5" r="0.65" fill="none" stroke="#111" stroke-width="0.6"/>
<circle cx="42" cy="599.75" r="0.65" fill="none" stroke="#111" stroke-width="0.6"/>
<circle cx="43" cy="598" r="0.65" fill="none" stroke="#111" stroke-width="0.6"/>
<circle cx="43.8" cy="596.15" r="0.65" fill="none" stroke="#111" stroke-width="0.6"/>
<circle cx="56.3" cy="589.6" r="0.65" fill="none" stroke="#111" stroke-width="0.6"/>
<circle cx="72" cy="581" r="0.65" fill="none" stroke="#111" stroke-width="0.6"/>
<circle cx="73.2" cy="579.2" r="0.65" fill="none" stroke="#111" stroke-width="0.6"/>
<circle cx="74.4" cy="577.4" r="0.65" fill="none" stroke="#111" stroke-width="0.6"/>
<circle cx="75.27" cy="575.6" r="0.65" fill="none" stroke="#111" stroke-width="0.6"/>
<circle cx="76.13" cy="573.8" r="0.65" fill="none" stroke="#111" stroke-width="0.6"/>
<circle cx="77" cy="572" r="0.65" fill="none" stroke="#111" stroke-width="0.6"/>
<circle cx="77.8" cy="570.42" r="0.65" fill="none" stroke="#111" stroke-width="0.6"/>
<circle cx="78.6" cy="568.85" r="0.65" fill="none" stroke="#111" stroke-width="0.6"/>
<circle cx="79.4" cy="567.27" r="0.65" fill="none" stroke="#111" stroke-width="0.6"/>
<circle cx="83.45" cy="561.95" r="0.65" fill="none" stroke="#111" stroke-width="0.6"/>
<circle cx="84.9" cy="560.4" r="0.65" fill="none" stroke="#111" stroke-width="0.6"/>
<circle cx="88.4" cy="558.7" r="0.65" fill="none" stroke="#111" stroke-width="0.6"/>
<circle cx="100" cy="544" r="0.65" fill="none" stroke="#111" stroke-width="0.6"/>
<circle cx="101.3" cy="542.1" r="0.65" fill="none" stroke="#111" stroke-width="0.6"/>
<circle cx="102.6" cy="540.2" r="0.65" fill="none" stroke="#111" stroke-width="0.6"/>
<circle cx="104" cy="539" r="0.65" fill="none" stroke="#111" stroke-width="0.6"/>
<circle cx="117.8" cy="534.85" r="0.65" fill="none" stroke="#111" stroke-width="0.6"/>
<circle cx="119" cy="533" r="0.65" fill="none" stroke="#111" stroke-width="0.6"/>
<circle cx="119.97" cy="531.5" r="0.65" fill="none" stroke="#111" stroke-width="0.6"/>
<circle cx="120.93" cy="530" r="0.65" fill="none" stroke="#111" stroke-width="0.6"/>
<circle cx="121.9" cy="528.5" r="0.65" fill="none" stroke="#111" stroke-width="0.6"/>
<circle cx="122.47" cy="526.97" r="0.65" fill="none" stroke="#111" stroke-width="0.6"/>
<circle cx="123.03" cy="525.43" r="0.65" fill="none" stroke="#111" stroke-width="0.6"/>
<circle cx="128.9" cy="521.5" r="0.65" fill="none" stroke="#111" stroke-width="0.6"/>
<circle cx="133.57" cy="519.77" r="0.65" fill="none" stroke="#111" stroke-width="0.6"/>
<circle cx="134.73" cy="518.03" r="0.65" fill="none" stroke="#111" stroke-width="0.6"/>
<circle cx="138.8" cy="514.85" r="0.65" fill="none" stroke="#111" stroke-width="0.6"/>
<circle cx="141.7" cy="513.4" r="0.65" fill="none" stroke="#111" stroke-width="0.6"/>
<circle cx="146.95" cy="507.25" r="0.65" fill="none" stroke="#111" stroke-width="0.6"/>
<circle cx="153.4" cy="502.8" r="0.65" fill="none" stroke="#111" stroke-width="0.6"/>
<circle cx="154.55" cy="501.05" r="0.65" fill="none" stroke="#111" stroke-width="0.6"/>
<circle cx="155.7" cy="499.3" r="0.65" fill="none" stroke="#111" stroke-width="0.6"/>
<circle cx="159.2" cy="497.6" r="0.65" fill="none" stroke="#111" stroke-width="0.6"/>
<circle cx="160.57" cy="495.63" r="0.65" fill="none" stroke="#111" stroke-width="0.6"/>
<circle cx="161.93" cy="493.67" r="0.65" fill="none" stroke="#111" stroke-width="0.6"/>
<circle cx="163.3" cy="491.7" r="0.65" fill="none" stroke="#111" stroke-width="0.6"/>
<circle cx="170.07" cy="484.47" r="0.65" fill="none" stroke="#111" stroke-width="0.6"/>
<circle cx="171.3" cy="482.7" r="0.65" fill="none" stroke="#111" stroke-width="0.6"/>
<circle cx="175.93" cy="481.3" r="0.65" fill="none" stroke="#111" stroke-width="0.6"/>
<circle cx="178.17" cy="479.4" r="0.65" fill="none" stroke="#111" stroke-width="0.6"/>
<circle cx="180.4" cy="477.5" r="0.65" fill="none" stroke="#111" stroke-width="0.6"/>
<circle cx="184.2" cy="475.1" r="0.65" fill="none" stroke="#111" stroke-width="0.6"/>
<circle cx="185.77" cy="473.23" r="0.65" fill="none" stroke="#111" stroke-width="0.6"/>
<circle cx="187.33" cy="471.37" r="0.65" fill="none" stroke="#111" stroke-width="0.6"/>
<circle cx="188.9" cy="469.5" r="0.65" fill="none" stroke="#111" stroke-width="0.6"/>
<circle cx="193.3" cy="467.27" r="0.65" fill="none" stroke="#111" stroke-width="0.6"/>
<circle cx="194.9" cy="465.53" r="0.65" fill="none" stroke="#111" stroke-width="0.6"/>
<circle cx="196.5" cy="463.8" r="0.65" fill="none" stroke="#111" stroke-width="0.6"/>
<circle cx="201.7" cy="462.55" r="0.65" fill="none" stroke="#111" stroke-width="0.6"/>
<circle cx="204.1" cy="460.9" r="0.65" fill="none" stroke="#111" stroke-width="0.6"/>
<circle cx="208.3" cy="460" r="0.65" fill="none" stroke="#111" stroke-width="0.6"/>
<circle cx="44.6" cy="594" r="1" fill="none" stroke="#111" stroke-width="0.75"/>
<circle cx="51.6" cy="590.8" r="3.3" fill="none" stroke="#111" stroke-width="0.75"/>
<circle cx="68.9" cy="586.1" r="3.9" fill="none" stroke="#111" stroke-width="0.75"/>
<circle cx="80.2" cy="564" r="2.2" fill="none" stroke="#111" stroke-width="0.75"/>
<circle cx="89.6" cy="553.4" r="4.3" fill="none" stroke="#111" stroke-width="0.75"/>
<circle cx="93.6" cy="553.4" r="3.5" fill="none" stroke="#111" stroke-width="0.75"/>
<circle cx="97.2" cy="548.8" r="3.3" fill="none" stroke="#111" stroke-width="0.75"/>
<circle cx="108.4" cy="536.7" r="1.75" fill="none" stroke="#111" stroke-width="0.75"/>
<circle cx="123" cy="523" r="2" fill="none" stroke="#111" stroke-width="0.75"/>
<circle cx="135.9" cy="516.3" r="1.2" fill="none" stroke="#111" stroke-width="0.75"/>
<circle cx="142.9" cy="511" r="2.3" fill="none" stroke="#111" stroke-width="0.75"/>
<circle cx="144" cy="510" r="1.5" fill="none" stroke="#111" stroke-width="0.75"/>
<circle cx="148.7" cy="504.6" r="1.5" fill="none" stroke="#111" stroke-width="0.75"/>
<circle cx="165.1" cy="490.6" r="1.2" fill="none" stroke="#111" stroke-width="0.75"/>
<circle cx="167.6" cy="488" r="1.9" fill="none" stroke="#111" stroke-width="0.75"/>
</g>
<rect x="265.5" y="453.5" width="184" height="160" fill="none" stroke="#2a2a2a" stroke-width="1.05"/>
<line x1="261.1" y1="587.5" x2="265.5" y2="587.5" stroke="#111" stroke-width="0.9"/>
<text transform="translate(255.9,587.5) rotate(-90) scale(0.97,1)" font-family="Liberation Sans" font-size="6.6" font-weight="normal" text-anchor="middle" fill="#000" stroke="#000" stroke-width="0.18">−20</text>
<line x1="261.1" y1="553.1" x2="265.5" y2="553.1" stroke="#111" stroke-width="0.9"/>
<text transform="translate(255.9,553.1) rotate(-90) scale(0.97,1)" font-family="Liberation Sans" font-size="6.6" font-weight="normal" text-anchor="middle" fill="#000" stroke="#000" stroke-width="0.18">0</text>
<line x1="261.1" y1="518.7" x2="265.5" y2="518.7" stroke="#111" stroke-width="0.9"/>
<text transform="translate(255.9,518.7) rotate(-90) scale(0.97,1)" font-family="Liberation Sans" font-size="6.6" font-weight="normal" text-anchor="middle" fill="#000" stroke="#000" stroke-width="0.18">20</text>
<line x1="261.1" y1="484.3" x2="265.5" y2="484.3" stroke="#111" stroke-width="0.9"/>
<text transform="translate(255.9,484.3) rotate(-90) scale(0.97,1)" font-family="Liberation Sans" font-size="6.6" font-weight="normal" text-anchor="middle" fill="#000" stroke="#000" stroke-width="0.18">40</text>
<line x1="288.1" y1="613.9" x2="288.1" y2="618.1" stroke="#111" stroke-width="0.9"/>
<text transform="translate(288.1,628.3) rotate(0) scale(0.97,1)" font-family="Liberation Sans" font-size="6.6" font-weight="normal" text-anchor="middle" fill="#000" stroke="#000" stroke-width="0.18">−50</text>
<line x1="345.3" y1="613.9" x2="345.3" y2="618.1" stroke="#111" stroke-width="0.9"/>
<text transform="translate(345.3,628.3) rotate(0) scale(0.97,1)" font-family="Liberation Sans" font-size="6.6" font-weight="normal" text-anchor="middle" fill="#000" stroke="#000" stroke-width="0.18">0</text>
<line x1="402.5" y1="613.9" x2="402.5" y2="618.1" stroke="#111" stroke-width="0.9"/>
<text transform="translate(402.5,628.3) rotate(0) scale(0.97,1)" font-family="Liberation Sans" font-size="6.6" font-weight="normal" text-anchor="middle" fill="#000" stroke="#000" stroke-width="0.18">50</text>
<text transform="translate(357.55,643.1) rotate(0) scale(1.0,1)" font-family="Liberation Sans" font-size="7.6" font-weight="normal" text-anchor="middle" fill="#000" stroke="#000" stroke-width="0.18">Transformed Times</text>
<text transform="translate(240.9,533.45) rotate(-90) scale(0.98,1.1)" font-family="Liberation Sans" font-size="7.4" font-weight="normal" text-anchor="middle" fill="#000" stroke="#000" stroke-width="0.18">Cum. #</text>
<clipPath id="c3b"><rect x="265.5" y="453" width="184.1" height="160.9"/></clipPath><g clip-path="url(#c3b)">
<line x1="265.5" y1="553.3" x2="449.6" y2="553.3" stroke="#333" stroke-width="1.0" stroke-dasharray="2.2,2.6"/>
<line x1="345.4" y1="453" x2="345.4" y2="613.9" stroke="#333" stroke-width="1.0" stroke-dasharray="2.2,2.6"/>
<line x1="402.6" y1="453" x2="402.6" y2="613.9" stroke="#333" stroke-width="1.0" stroke-dasharray="2.2,2.6"/>
<line x1="271.8" y1="453" x2="271.8" y2="613.9" stroke="#777" stroke-width="1.0" stroke-dasharray="1.4,3.5"/>
<line x1="276.66" y1="656.3" x2="459.7" y2="381.1" stroke="#111" stroke-width="0.85"/>
<path d="M272.3,608 L281.1,608 L281.33,608 L281.33,606.27 L281.57,606.27 L281.57,604.53 L281.8,604.53 L281.8,602.8 L282.08,602.8 L282.08,601.04 L282.36,601.04 L282.36,599.28 L282.64,599.28 L282.64,597.52 L282.92,597.52 L282.92,595.76 L283.2,595.76 L283.2,594 L284.3,594 L284.3,592.2 L285.4,592.2 L285.4,590.4 L288.4,590.4 L288.4,589.3 L333.6,589.3 L334.55,589.3 L334.55,587.65 L335.5,587.65 L335.5,586 L337.1,586 L337.1,584.15 L338.7,584.15 L338.7,582.3 L339,582.3 L339,580.56 L339.3,580.56 L339.3,578.82 L339.6,578.82 L339.6,577.08 L339.9,577.08 L339.9,575.34 L340.2,575.34 L340.2,573.6 L340.43,573.6 L340.43,571.63 L340.67,571.63 L340.67,569.67 L340.9,569.67 L340.9,567.7 L341.4,567.7 L341.4,565.77 L341.9,565.77 L341.9,563.83 L342.4,563.83 L342.4,561.9 L342.95,561.9 L342.95,560.08 L343.5,560.08 L343.5,558.25 L344.05,558.25 L344.05,556.42 L344.6,556.42 L344.6,554.6 L345.55,554.6 L345.55,552.8 L346.5,552.8 L346.5,551 L348.9,551 L348.9,548.8 L349.25,548.8 L349.25,546.95 L349.6,546.95 L349.6,545.1 L350.13,545.1 L350.13,543.1 L350.67,543.1 L350.67,541.1 L351.2,541.1 L351.2,539.1 L352.85,539.1 L352.85,537.5 L354.5,537.5 L354.5,535.9 L360.1,535.1 L360.26,535.1 L360.26,533.5 L360.42,533.5 L360.42,531.9 L360.58,531.9 L360.58,530.3 L360.74,530.3 L360.74,528.7 L360.9,528.7 L360.9,527.1 L361.7,527.1 L361.7,525.1 L362.5,525.1 L362.5,523.1 L365.7,523.1 L365.7,520.7 L366.5,520.7 L366.5,519.07 L367.3,519.07 L367.3,517.43 L368.1,517.43 L368.1,515.8 L370.1,515.8 L370.1,513.8 L372.1,513.8 L372.1,511.8 L372.9,511.8 L372.9,510.2 L373.9,510.2 L373.9,508.6 L374.9,508.6 L374.9,507 L375.9,507 L375.9,505.4 L376.9,505.4 L376.9,503.8 L378.27,503.8 L378.27,501.93 L379.63,501.93 L379.63,500.07 L381,500.07 L381,498.2 L381.6,498.2 L381.6,496.4 L382.2,496.4 L382.2,494.6 L382.8,494.6 L382.8,492.8 L383.4,492.8 L383.4,491 L384.2,491 L384.2,489.53 L385,489.53 L385,488.07 L385.8,488.07 L385.8,486.6 L386.6,486.6 L386.6,484.83 L387.4,484.83 L387.4,483.07 L388.2,483.07 L388.2,481.3 L389.4,481.3 L389.4,479.7 L390.6,479.7 L390.6,478.1 L391.8,478.1 L391.8,476.5 L393,476.5 L393,474.9 L397,474.9 L397,473.3 L398.2,473.3 L398.2,471.3 L399.4,471.3 L399.4,469.3 L401.8,469.3 L401.8,466.9 L404.2,466.1 L406.6,466.1 L406.6,464.5 L409.9,464.5 L409.9,462 L421.9,461.6 L423.5,461.6 L423.5,460.4 L428.3,460.4 L429.9,460.4 L429.9,458.8 L442.8,458.8" fill="none" stroke="#6a1cff" stroke-width="1.0" stroke-linejoin="miter"/>
<circle cx="281.33" cy="606.27" r="0.65" fill="none" stroke="#111" stroke-width="0.6"/>
<circle cx="281.57" cy="604.53" r="0.65" fill="none" stroke="#111" stroke-width="0.6"/>
<circle cx="281.8" cy="602.8" r="0.65" fill="none" stroke="#111" stroke-width="0.6"/>
<circle cx="282.08" cy="601.04" r="0.65" fill="none" stroke="#111" stroke-width="0.6"/>
<circle cx="282.36" cy="599.28" r="0.65" fill="none" stroke="#111" stroke-width="0.6"/>
<circle cx="282.64" cy="597.52" r="0.65" fill="none" stroke="#111" stroke-width="0.6"/>
<circle cx="282.92" cy="595.76" r="0.65" fill="none" stroke="#111" stroke-width="0.6"/>
<circle cx="283.2" cy="594" r="0.65" fill="none" stroke="#111" stroke-width="0.6"/>
<circle cx="338.7" cy="582.3" r="0.65" fill="none" stroke="#111" stroke-width="0.6"/>
<circle cx="339" cy="580.56" r="0.65" fill="none" stroke="#111" stroke-width="0.6"/>
<circle cx="339.3" cy="578.82" r="0.65" fill="none" stroke="#111" stroke-width="0.6"/>
<circle cx="339.6" cy="577.08" r="0.65" fill="none" stroke="#111" stroke-width="0.6"/>
<circle cx="339.9" cy="575.34" r="0.65" fill="none" stroke="#111" stroke-width="0.6"/>
<circle cx="340.2" cy="573.6" r="0.65" fill="none" stroke="#111" stroke-width="0.6"/>
<circle cx="340.43" cy="571.63" r="0.65" fill="none" stroke="#111" stroke-width="0.6"/>
<circle cx="340.67" cy="569.67" r="0.65" fill="none" stroke="#111" stroke-width="0.6"/>
<circle cx="340.9" cy="567.7" r="0.65" fill="none" stroke="#111" stroke-width="0.6"/>
<circle cx="341.4" cy="565.77" r="0.65" fill="none" stroke="#111" stroke-width="0.6"/>
<circle cx="341.9" cy="563.83" r="0.65" fill="none" stroke="#111" stroke-width="0.6"/>
<circle cx="342.4" cy="561.9" r="0.65" fill="none" stroke="#111" stroke-width="0.6"/>
<circle cx="342.95" cy="560.08" r="0.65" fill="none" stroke="#111" stroke-width="0.6"/>
<circle cx="343.5" cy="558.25" r="0.65" fill="none" stroke="#111" stroke-width="0.6"/>
<circle cx="350.13" cy="543.1" r="0.65" fill="none" stroke="#111" stroke-width="0.6"/>
<circle cx="350.67" cy="541.1" r="0.65" fill="none" stroke="#111" stroke-width="0.6"/>
<circle cx="351.2" cy="539.1" r="0.65" fill="none" stroke="#111" stroke-width="0.6"/>
<circle cx="352.85" cy="537.5" r="0.65" fill="none" stroke="#111" stroke-width="0.6"/>
<circle cx="360.26" cy="533.5" r="0.65" fill="none" stroke="#111" stroke-width="0.6"/>
<circle cx="360.42" cy="531.9" r="0.65" fill="none" stroke="#111" stroke-width="0.6"/>
<circle cx="360.58" cy="530.3" r="0.65" fill="none" stroke="#111" stroke-width="0.6"/>
<circle cx="360.74" cy="528.7" r="0.65" fill="none" stroke="#111" stroke-width="0.6"/>
<circle cx="360.9" cy="527.1" r="0.65" fill="none" stroke="#111" stroke-width="0.6"/>
<circle cx="361.7" cy="525.1" r="0.65" fill="none" stroke="#111" stroke-width="0.6"/>
<circle cx="365.7" cy="520.7" r="0.65" fill="none" stroke="#111" stroke-width="0.6"/>
<circle cx="366.5" cy="519.07" r="0.65" fill="none" stroke="#111" stroke-width="0.6"/>
<circle cx="367.3" cy="517.43" r="0.65" fill="none" stroke="#111" stroke-width="0.6"/>
<circle cx="370.1" cy="513.8" r="0.65" fill="none" stroke="#111" stroke-width="0.6"/>
<circle cx="374.9" cy="507" r="0.65" fill="none" stroke="#111" stroke-width="0.6"/>
<circle cx="375.9" cy="505.4" r="0.65" fill="none" stroke="#111" stroke-width="0.6"/>
<circle cx="378.27" cy="501.93" r="0.65" fill="none" stroke="#111" stroke-width="0.6"/>
<circle cx="379.63" cy="500.07" r="0.65" fill="none" stroke="#111" stroke-width="0.6"/>
<circle cx="381" cy="498.2" r="0.65" fill="none" stroke="#111" stroke-width="0.6"/>
<circle cx="381.6" cy="496.4" r="0.65" fill="none" stroke="#111" stroke-width="0.6"/>
<circle cx="382.2" cy="494.6" r="0.65" fill="none" stroke="#111" stroke-width="0.6"/>
<circle cx="382.8" cy="492.8" r="0.65" fill="none" stroke="#111" stroke-width="0.6"/>
<circle cx="383.4" cy="491" r="0.65" fill="none" stroke="#111" stroke-width="0.6"/>
<circle cx="384.2" cy="489.53" r="0.65" fill="none" stroke="#111" stroke-width="0.6"/>
<circle cx="387.4" cy="483.07" r="0.65" fill="none" stroke="#111" stroke-width="0.6"/>
<circle cx="388.2" cy="481.3" r="0.65" fill="none" stroke="#111" stroke-width="0.6"/>
<circle cx="389.4" cy="479.7" r="0.65" fill="none" stroke="#111" stroke-width="0.6"/>
<circle cx="390.6" cy="478.1" r="0.65" fill="none" stroke="#111" stroke-width="0.6"/>
<circle cx="391.8" cy="476.5" r="0.65" fill="none" stroke="#111" stroke-width="0.6"/>
<circle cx="393" cy="474.9" r="0.65" fill="none" stroke="#111" stroke-width="0.6"/>
<circle cx="397" cy="473.3" r="0.65" fill="none" stroke="#111" stroke-width="0.6"/>
<circle cx="398.2" cy="471.3" r="0.65" fill="none" stroke="#111" stroke-width="0.6"/>
<circle cx="399.4" cy="469.3" r="0.65" fill="none" stroke="#111" stroke-width="0.6"/>
<circle cx="401.8" cy="466.9" r="0.65" fill="none" stroke="#111" stroke-width="0.6"/>
<circle cx="406.6" cy="464.5" r="0.65" fill="none" stroke="#111" stroke-width="0.6"/>
<circle cx="423.5" cy="460.4" r="0.65" fill="none" stroke="#111" stroke-width="0.6"/>
<circle cx="429.9" cy="458.8" r="0.65" fill="none" stroke="#111" stroke-width="0.6"/>
<circle cx="285.4" cy="591.1" r="3.2" fill="none" stroke="#111" stroke-width="0.75"/>
<circle cx="335.1" cy="585.5" r="3.5" fill="none" stroke="#111" stroke-width="0.75"/>
<circle cx="344.6" cy="553.1" r="3.5" fill="none" stroke="#111" stroke-width="0.75"/>
<circle cx="348.9" cy="548.8" r="3.5" fill="none" stroke="#111" stroke-width="0.75"/>
<circle cx="354.5" cy="535.9" r="1.6" fill="none" stroke="#111" stroke-width="0.75"/>
<circle cx="362.5" cy="522.3" r="2" fill="none" stroke="#111" stroke-width="0.75"/>
<circle cx="368.1" cy="515.8" r="1.5" fill="none" stroke="#111" stroke-width="0.75"/>
<circle cx="372.9" cy="510.6" r="2.5" fill="none" stroke="#111" stroke-width="0.75"/>
<circle cx="376.9" cy="503.8" r="1.5" fill="none" stroke="#111" stroke-width="0.75"/>
<circle cx="385.8" cy="486.6" r="2" fill="none" stroke="#111" stroke-width="0.75"/>
<circle cx="409.9" cy="462" r="1.5" fill="none" stroke="#111" stroke-width="0.75"/>
</g>
<rect x="500.5" y="453.5" width="184" height="160" fill="none" stroke="#2a2a2a" stroke-width="1.05"/>
<line x1="495.8" y1="593.1" x2="500.2" y2="593.1" stroke="#111" stroke-width="0.9"/>
<text transform="translate(490.6,593.1) rotate(-90) scale(0.97,1)" font-family="Liberation Sans" font-size="6.6" font-weight="normal" text-anchor="middle" fill="#000" stroke="#000" stroke-width="0.18">−20</text>
<line x1="495.8" y1="571.8" x2="500.2" y2="571.8" stroke="#111" stroke-width="0.9"/>
<text transform="translate(490.6,571.8) rotate(-90) scale(0.97,1)" font-family="Liberation Sans" font-size="6.6" font-weight="normal" text-anchor="middle" fill="#000" stroke="#000" stroke-width="0.18">−10</text>
<line x1="495.8" y1="550.5" x2="500.2" y2="550.5" stroke="#111" stroke-width="0.9"/>
<text transform="translate(490.6,550.5) rotate(-90) scale(0.97,1)" font-family="Liberation Sans" font-size="6.6" font-weight="normal" text-anchor="middle" fill="#000" stroke="#000" stroke-width="0.18">0</text>
<line x1="495.8" y1="529.2" x2="500.2" y2="529.2" stroke="#111" stroke-width="0.9"/>
<text transform="translate(490.6,529.2) rotate(-90) scale(0.97,1)" font-family="Liberation Sans" font-size="6.6" font-weight="normal" text-anchor="middle" fill="#000" stroke="#000" stroke-width="0.18">10</text>
<line x1="495.8" y1="507.9" x2="500.2" y2="507.9" stroke="#111" stroke-width="0.9"/>
<text transform="translate(490.6,507.9) rotate(-90) scale(0.97,1)" font-family="Liberation Sans" font-size="6.6" font-weight="normal" text-anchor="middle" fill="#000" stroke="#000" stroke-width="0.18">20</text>
<line x1="495.8" y1="486.6" x2="500.2" y2="486.6" stroke="#111" stroke-width="0.9"/>
<text transform="translate(490.6,486.6) rotate(-90) scale(0.97,1)" font-family="Liberation Sans" font-size="6.6" font-weight="normal" text-anchor="middle" fill="#000" stroke="#000" stroke-width="0.18">30</text>
<line x1="495.8" y1="465.3" x2="500.2" y2="465.3" stroke="#111" stroke-width="0.9"/>
<text transform="translate(490.6,465.3) rotate(-90) scale(0.97,1)" font-family="Liberation Sans" font-size="6.6" font-weight="normal" text-anchor="middle" fill="#000" stroke="#000" stroke-width="0.18">40</text>
<line x1="517.12" y1="613.9" x2="517.12" y2="618.1" stroke="#111" stroke-width="0.9"/>
<text transform="translate(517.12,628.3) rotate(0) scale(0.97,1)" font-family="Liberation Sans" font-size="6.6" font-weight="normal" text-anchor="middle" fill="#000" stroke="#000" stroke-width="0.18">−10</text>
<line x1="542.95" y1="613.9" x2="542.95" y2="618.1" stroke="#111" stroke-width="0.9"/>
<text transform="translate(542.95,628.3) rotate(0) scale(0.97,1)" font-family="Liberation Sans" font-size="6.6" font-weight="normal" text-anchor="middle" fill="#000" stroke="#000" stroke-width="0.18">0</text>
<line x1="568.78" y1="613.9" x2="568.78" y2="618.1" stroke="#111" stroke-width="0.9"/>
<text transform="translate(568.78,628.3) rotate(0) scale(0.97,1)" font-family="Liberation Sans" font-size="6.6" font-weight="normal" text-anchor="middle" fill="#000" stroke="#000" stroke-width="0.18">10</text>
<line x1="594.61" y1="613.9" x2="594.61" y2="618.1" stroke="#111" stroke-width="0.9"/>
<text transform="translate(594.61,628.3) rotate(0) scale(0.97,1)" font-family="Liberation Sans" font-size="6.6" font-weight="normal" text-anchor="middle" fill="#000" stroke="#000" stroke-width="0.18">20</text>
<line x1="620.44" y1="613.9" x2="620.44" y2="618.1" stroke="#111" stroke-width="0.9"/>
<text transform="translate(620.44,628.3) rotate(0) scale(0.97,1)" font-family="Liberation Sans" font-size="6.6" font-weight="normal" text-anchor="middle" fill="#000" stroke="#000" stroke-width="0.18">30</text>
<line x1="646.27" y1="613.9" x2="646.27" y2="618.1" stroke="#111" stroke-width="0.9"/>
<text transform="translate(646.27,628.3) rotate(0) scale(0.97,1)" font-family="Liberation Sans" font-size="6.6" font-weight="normal" text-anchor="middle" fill="#000" stroke="#000" stroke-width="0.18">40</text>
<line x1="672.1" y1="613.9" x2="672.1" y2="618.1" stroke="#111" stroke-width="0.9"/>
<text transform="translate(672.1,628.3) rotate(0) scale(0.97,1)" font-family="Liberation Sans" font-size="6.6" font-weight="normal" text-anchor="middle" fill="#000" stroke="#000" stroke-width="0.18">50</text>
<text transform="translate(592.4,643.1) rotate(0) scale(1.0,1)" font-family="Liberation Sans" font-size="7.6" font-weight="normal" text-anchor="middle" fill="#000" stroke="#000" stroke-width="0.18">Transformed Times</text>
<text transform="translate(475.8,533.45) rotate(-90) scale(0.98,1.1)" font-family="Liberation Sans" font-size="7.4" font-weight="normal" text-anchor="middle" fill="#000" stroke="#000" stroke-width="0.18">Cum. #</text>
<clipPath id="c3c"><rect x="500.2" y="453" width="184.4" height="160.9"/></clipPath><g clip-path="url(#c3c)">
<line x1="500.2" y1="550.3" x2="684.6" y2="550.3" stroke="#333" stroke-width="1.0" stroke-dasharray="2.2,2.6"/>
<line x1="506.7" y1="453" x2="506.7" y2="613.9" stroke="#333" stroke-width="1.0" stroke-dasharray="2.2,2.6"/>
<line x1="542.8" y1="453" x2="542.8" y2="613.9" stroke="#333" stroke-width="1.0" stroke-dasharray="2.2,2.6"/>
<line x1="643.4" y1="453" x2="643.4" y2="613.9" stroke="#333" stroke-width="1.0" stroke-dasharray="2.2,2.6"/>
<line x1="478.38" y1="603.75" x2="697.93" y2="422.7" stroke="#111" stroke-width="0.85"/>
<path d="M506.6,608.5 L506.77,608.5 L506.77,606.53 L506.93,606.53 L506.93,604.57 L507.1,604.57 L507.1,602.6 L507.43,602.6 L507.43,600.63 L507.77,600.63 L507.77,598.67 L508.1,598.67 L508.1,596.7 L509.6,596.7 L509.6,593.8 L511.1,593.8 L511.1,591.6 L514.8,591.1 L526.6,591.1 L526.95,591.1 L526.95,589.1 L527.3,589.1 L527.3,587.1 L533.9,586.4 L534.4,586.4 L534.4,583.93 L534.9,583.93 L534.9,581.47 L535.4,581.47 L535.4,579 L535.67,579 L535.67,577.03 L535.93,577.03 L535.93,575.07 L536.2,575.07 L536.2,573.1 L536.67,573.1 L536.67,571.13 L537.13,571.13 L537.13,569.17 L537.6,569.17 L537.6,567.2 L537.77,567.2 L537.77,565.23 L537.93,565.23 L537.93,563.27 L538.1,563.27 L538.1,561.3 L538.95,561.3 L538.95,559.1 L539.8,559.1 L539.8,556.9 L542.1,556.9 L542.1,553.9 L542.8,553.9 L542.8,551 L545.7,551 L545.7,548.8 L550.2,548.8 L550.2,545.8 L552.17,545.8 L552.17,543.6 L554.13,543.6 L554.13,541.4 L556.1,541.4 L556.1,539.2 L557.55,539.2 L557.55,537 L559,537 L559,534.8 L563.5,534.8 L563.5,533 L572.3,533 L572.65,533 L572.65,530.95 L573,530.95 L573,528.9 L573.6,528.9 L573.6,526.4 L574.2,526.4 L574.2,523.9 L574.47,523.9 L574.47,521.63 L574.73,521.63 L574.73,519.37 L575,519.37 L575,517.1 L582.6,516.3 L584.3,516.3 L584.3,514.65 L586,514.65 L586,513 L590.6,513 L590.6,510.9 L595.2,510.9 L595.2,508.8 L596.45,508.8 L596.45,506.7 L597.7,506.7 L597.7,504.6 L601.1,504.6 L601.1,502 L602.35,502 L602.35,499.5 L603.6,499.5 L603.6,497 L610.3,497 L610.3,495.3 L611.97,495.3 L611.97,493.07 L613.63,493.07 L613.63,490.83 L615.3,490.83 L615.3,488.6 L616.13,488.6 L616.13,486.63 L616.97,486.63 L616.97,484.67 L617.8,484.67 L617.8,482.7 L619.5,482.7 L619.5,480.6 L621.2,480.6 L621.2,478.5 L625.4,478.5 L625.4,476 L628.8,476 L628.8,474.3 L635.5,474.3 L636.75,474.3 L636.75,471.8 L638,471.8 L638,469.3 L643.9,469.3 L643.9,466.8 L647.2,466.8 L647.2,465.1 L650.6,465.1 L650.6,463.1 L653.9,463.1 L653.9,461.4 L666.5,461.4 L667,461.4 L667,458.7 L677.4,458.7" fill="none" stroke="#6a1cff" stroke-width="1.0" stroke-linejoin="miter"/>
<circle cx="506.77" cy="606.53" r="0.65" fill="none" stroke="#111" stroke-width="0.6"/>
<circle cx="506.93" cy="604.57" r="0.65" fill="none" stroke="#111" stroke-width="0.6"/>
<circle cx="507.1" cy="602.6" r="0.65" fill="none" stroke="#111" stroke-width="0.6"/>
<circle cx="507.43" cy="600.63" r="0.65" fill="none" stroke="#111" stroke-width="0.6"/>
<circle cx="507.77" cy="598.67" r="0.65" fill="none" stroke="#111" stroke-width="0.6"/>
<circle cx="508.1" cy="596.7" r="0.65" fill="none" stroke="#111" stroke-width="0.6"/>
<circle cx="534.4" cy="583.93" r="0.65" fill="none" stroke="#111" stroke-width="0.6"/>
<circle cx="534.9" cy="581.47" r="0.65" fill="none" stroke="#111" stroke-width="0.6"/>
<circle cx="535.4" cy="579" r="0.65" fill="none" stroke="#111" stroke-width="0.6"/>
<circle cx="535.67" cy="577.03" r="0.65" fill="none" stroke="#111" stroke-width="0.6"/>
<circle cx="535.93" cy="575.07" r="0.65" fill="none" stroke="#111" stroke-width="0.6"/>
<circle cx="536.67" cy="571.13" r="0.65" fill="none" stroke="#111" stroke-width="0.6"/>
<circle cx="537.13" cy="569.17" r="0.65" fill="none" stroke="#111" stroke-width="0.6"/>
<circle cx="537.6" cy="567.2" r="0.65" fill="none" stroke="#111" stroke-width="0.6"/>
<circle cx="537.77" cy="565.23" r="0.65" fill="none" stroke="#111" stroke-width="0.6"/>
<circle cx="538.95" cy="559.1" r="0.65" fill="none" stroke="#111" stroke-width="0.6"/>
<circle cx="539.8" cy="556.9" r="0.65" fill="none" stroke="#111" stroke-width="0.6"/>
<circle cx="554.13" cy="541.4" r="0.65" fill="none" stroke="#111" stroke-width="0.6"/>
<circle cx="556.1" cy="539.2" r="0.65" fill="none" stroke="#111" stroke-width="0.6"/>
<circle cx="557.55" cy="537" r="0.65" fill="none" stroke="#111" stroke-width="0.6"/>
<circle cx="563.5" cy="533" r="0.65" fill="none" stroke="#111" stroke-width="0.6"/>
<circle cx="572.65" cy="530.95" r="0.65" fill="none" stroke="#111" stroke-width="0.6"/>
<circle cx="573" cy="528.9" r="0.65" fill="none" stroke="#111" stroke-width="0.6"/>
<circle cx="573.6" cy="526.4" r="0.65" fill="none" stroke="#111" stroke-width="0.6"/>
<circle cx="574.2" cy="523.9" r="0.65" fill="none" stroke="#111" stroke-width="0.6"/>
<circle cx="574.47" cy="521.63" r="0.65" fill="none" stroke="#111" stroke-width="0.6"/>
<circle cx="584.3" cy="514.65" r="0.65" fill="none" stroke="#111" stroke-width="0.6"/>
<circle cx="590.6" cy="510.9" r="0.65" fill="none" stroke="#111" stroke-width="0.6"/>
<circle cx="595.2" cy="508.8" r="0.65" fill="none" stroke="#111" stroke-width="0.6"/>
<circle cx="601.1" cy="502" r="0.65" fill="none" stroke="#111" stroke-width="0.6"/>
<circle cx="602.35" cy="499.5" r="0.65" fill="none" stroke="#111" stroke-width="0.6"/>
<circle cx="610.3" cy="495.3" r="0.65" fill="none" stroke="#111" stroke-width="0.6"/>
<circle cx="611.97" cy="493.07" r="0.65" fill="none" stroke="#111" stroke-width="0.6"/>
<circle cx="613.63" cy="490.83" r="0.65" fill="none" stroke="#111" stroke-width="0.6"/>
<circle cx="615.3" cy="488.6" r="0.65" fill="none" stroke="#111" stroke-width="0.6"/>
<circle cx="616.13" cy="486.63" r="0.65" fill="none" stroke="#111" stroke-width="0.6"/>
<circle cx="616.97" cy="484.67" r="0.65" fill="none" stroke="#111" stroke-width="0.6"/>
<circle cx="621.2" cy="478.5" r="0.65" fill="none" stroke="#111" stroke-width="0.6"/>
<circle cx="625.4" cy="476" r="0.65" fill="none" stroke="#111" stroke-width="0.6"/>
<circle cx="628.8" cy="474.3" r="0.65" fill="none" stroke="#111" stroke-width="0.6"/>
<circle cx="636.75" cy="471.8" r="0.65" fill="none" stroke="#111" stroke-width="0.6"/>
<circle cx="638" cy="469.3" r="0.65" fill="none" stroke="#111" stroke-width="0.6"/>
<circle cx="643.9" cy="466.8" r="0.65" fill="none" stroke="#111" stroke-width="0.6"/>
<circle cx="647.2" cy="465.1" r="0.65" fill="none" stroke="#111" stroke-width="0.6"/>
<circle cx="650.6" cy="463.1" r="0.65" fill="none" stroke="#111" stroke-width="0.6"/>
<circle cx="667" cy="458.7" r="0.65" fill="none" stroke="#111" stroke-width="0.6"/>
<circle cx="511.1" cy="590.8" r="3.2" fill="none" stroke="#111" stroke-width="0.75"/>
<circle cx="527.3" cy="586.7" r="4.2" fill="none" stroke="#111" stroke-width="0.75"/>
<circle cx="536.2" cy="573.1" r="1.5" fill="none" stroke="#111" stroke-width="0.75"/>
<circle cx="538.1" cy="561.3" r="1.8" fill="none" stroke="#111" stroke-width="0.75"/>
<circle cx="541.3" cy="550.2" r="4.5" fill="none" stroke="#111" stroke-width="0.75"/>
<circle cx="545.7" cy="548.8" r="2.5" fill="none" stroke="#111" stroke-width="0.75"/>
<circle cx="549.9" cy="543.6" r="3.5" fill="none" stroke="#111" stroke-width="0.75"/>
<circle cx="559.6" cy="533.5" r="1.7" fill="none" stroke="#111" stroke-width="0.75"/>
<circle cx="575" cy="518" r="2" fill="none" stroke="#111" stroke-width="0.75"/>
<circle cx="586" cy="513" r="1.5" fill="none" stroke="#111" stroke-width="0.75"/>
<circle cx="596" cy="505.4" r="2.5" fill="none" stroke="#111" stroke-width="0.75"/>
<circle cx="603.6" cy="497" r="1.5" fill="none" stroke="#111" stroke-width="0.75"/>
<circle cx="619" cy="482.2" r="2" fill="none" stroke="#111" stroke-width="0.75"/>
<circle cx="653.9" cy="461.4" r="1.5" fill="none" stroke="#111" stroke-width="0.75"/>
</g>
</svg></body></html>
